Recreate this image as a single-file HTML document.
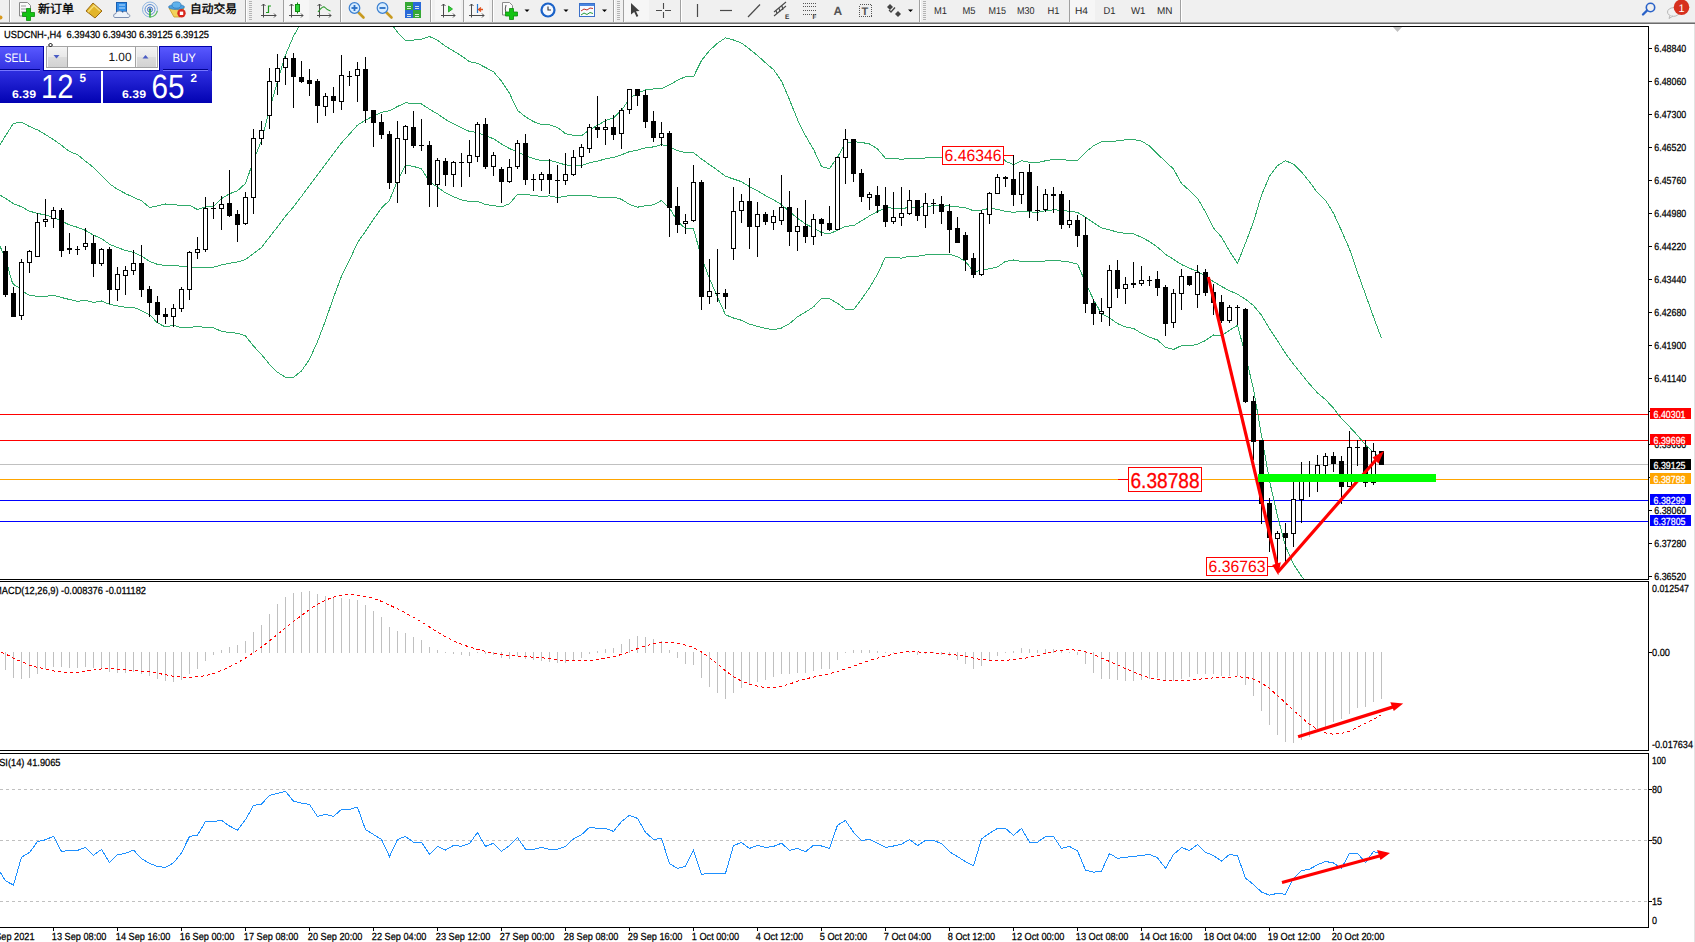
<!DOCTYPE html><html><head><meta charset="utf-8"><title>USDCNH-,H4</title>
<style>html,body{margin:0;padding:0;background:#fff;overflow:hidden;width:1695px;height:942px}svg{display:block;text-rendering:geometricPrecision}</style></head><body>
<svg width="1695" height="942" viewBox="0 0 1695 942">
<rect x="0" y="0" width="1695" height="942" fill="#ffffff"/>
<rect x="0" y="0" width="1695" height="22" fill="#f0f0f0"/>
<g shape-rendering="crispEdges">
<rect x="0" y="22" width="1695" height="1" fill="#a9a9a9"/>
<rect x="0" y="23" width="1695" height="1" fill="#6c6c6c"/>
<rect x="0" y="24" width="1695" height="1" fill="#ffffff"/>
<rect x="0" y="25" width="1695" height="1" fill="#ffffff"/>
<rect x="9" y="0" width="1" height="22" fill="#a0a0a0"/>
<rect x="10" y="0" width="1" height="22" fill="#ffffff"/>
<rect x="245" y="0" width="1" height="22" fill="#a0a0a0"/>
<rect x="246" y="0" width="1" height="22" fill="#ffffff"/>
<rect x="283" y="0" width="1" height="22" fill="#a0a0a0"/>
<rect x="284" y="0" width="1" height="22" fill="#ffffff"/>
<rect x="340" y="0" width="1" height="22" fill="#a0a0a0"/>
<rect x="341" y="0" width="1" height="22" fill="#ffffff"/>
<rect x="430" y="0" width="1" height="22" fill="#a0a0a0"/>
<rect x="431" y="0" width="1" height="22" fill="#ffffff"/>
<rect x="463" y="0" width="1" height="22" fill="#a0a0a0"/>
<rect x="464" y="0" width="1" height="22" fill="#ffffff"/>
<rect x="492" y="0" width="1" height="22" fill="#a0a0a0"/>
<rect x="493" y="0" width="1" height="22" fill="#ffffff"/>
<rect x="613" y="0" width="1" height="22" fill="#a0a0a0"/>
<rect x="614" y="0" width="1" height="22" fill="#ffffff"/>
<rect x="623" y="0" width="1" height="22" fill="#a0a0a0"/>
<rect x="624" y="0" width="1" height="22" fill="#ffffff"/>
<rect x="680" y="0" width="1" height="22" fill="#a0a0a0"/>
<rect x="681" y="0" width="1" height="22" fill="#ffffff"/>
<rect x="919" y="0" width="1" height="22" fill="#a0a0a0"/>
<rect x="920" y="0" width="1" height="22" fill="#ffffff"/>
<rect x="1069" y="0" width="1" height="22" fill="#a0a0a0"/>
<rect x="1070" y="0" width="1" height="22" fill="#ffffff"/>
<rect x="1180" y="0" width="1" height="22" fill="#a0a0a0"/>
<rect x="1181" y="0" width="1" height="22" fill="#ffffff"/>
<rect x="249" y="1" width="3" height="1" fill="#b4b4b4"/>
<rect x="249" y="3" width="3" height="1" fill="#b4b4b4"/>
<rect x="249" y="5" width="3" height="1" fill="#b4b4b4"/>
<rect x="249" y="7" width="3" height="1" fill="#b4b4b4"/>
<rect x="249" y="9" width="3" height="1" fill="#b4b4b4"/>
<rect x="249" y="11" width="3" height="1" fill="#b4b4b4"/>
<rect x="249" y="13" width="3" height="1" fill="#b4b4b4"/>
<rect x="249" y="15" width="3" height="1" fill="#b4b4b4"/>
<rect x="249" y="17" width="3" height="1" fill="#b4b4b4"/>
<rect x="249" y="19" width="3" height="1" fill="#b4b4b4"/>
<rect x="617" y="1" width="3" height="1" fill="#b4b4b4"/>
<rect x="617" y="3" width="3" height="1" fill="#b4b4b4"/>
<rect x="617" y="5" width="3" height="1" fill="#b4b4b4"/>
<rect x="617" y="7" width="3" height="1" fill="#b4b4b4"/>
<rect x="617" y="9" width="3" height="1" fill="#b4b4b4"/>
<rect x="617" y="11" width="3" height="1" fill="#b4b4b4"/>
<rect x="617" y="13" width="3" height="1" fill="#b4b4b4"/>
<rect x="617" y="15" width="3" height="1" fill="#b4b4b4"/>
<rect x="617" y="17" width="3" height="1" fill="#b4b4b4"/>
<rect x="617" y="19" width="3" height="1" fill="#b4b4b4"/>
<rect x="923" y="1" width="3" height="1" fill="#b4b4b4"/>
<rect x="923" y="3" width="3" height="1" fill="#b4b4b4"/>
<rect x="923" y="5" width="3" height="1" fill="#b4b4b4"/>
<rect x="923" y="7" width="3" height="1" fill="#b4b4b4"/>
<rect x="923" y="9" width="3" height="1" fill="#b4b4b4"/>
<rect x="923" y="11" width="3" height="1" fill="#b4b4b4"/>
<rect x="923" y="13" width="3" height="1" fill="#b4b4b4"/>
<rect x="923" y="15" width="3" height="1" fill="#b4b4b4"/>
<rect x="923" y="17" width="3" height="1" fill="#b4b4b4"/>
<rect x="923" y="19" width="3" height="1" fill="#b4b4b4"/>
<rect x="284" y="0" width="25" height="21" fill="#f6f6f6"/>
<rect x="435" y="0" width="26" height="21" fill="#f6f6f6"/>
<rect x="464" y="0" width="25" height="21" fill="#f6f6f6"/>
<rect x="624" y="0" width="25" height="21" fill="#f6f6f6"/>
<rect x="1070" y="0" width="25" height="21" fill="#f6f6f6"/>
</g>
<circle cx="0.5" cy="17.5" r="2" fill="#d89a20"/>
<path d="M19.5 2.5h8l3 3v10.5h-11z" fill="#fafafa" stroke="#8a8a8a"/>
<path d="M21 6h5M21 9h7M21 12h6" stroke="#9a9a9a" stroke-width="1"/>
<path d="M26.5 8.5h4v4h4v4h-4v4h-4v-4h-4v-4h4z" fill="#13c313" stroke="#0a8a0a" stroke-width="0.8"/>
<text x="38" y="13.2" font-size="12" fill="#000" text-anchor="start" font-family="'Liberation Sans', 'Noto Sans CJK SC', 'WenQuanYi Zen Hei', sans-serif" font-weight="normal" textLength="36" lengthAdjust="spacingAndGlyphs" stroke="#000" stroke-width="0.35">新订单</text>
<path d="M86 11 L93 3 L102 11 L95 18 Z" fill="#e3b52a" stroke="#9c6a12" stroke-width="1"/>
<path d="M88 12 L94 5.5 L100 11" fill="none" stroke="#f6dc76" stroke-width="1.5"/>
<rect x="116.5" y="2.5" width="10" height="9" fill="#2f8de8" stroke="#1a5fb0"/>
<path d="M119 5h6M119 8h6" stroke="#bfe0ff"/>
<path d="M115 17.5 C113 17.5 113 13.5 116 13.5 C116.5 10.5 121 10 122.5 12.5 C124 10.5 128 11.5 127.5 14 C130.5 14 130.5 17.5 128 17.5 Z" fill="#eef3fa" stroke="#7d8fb0" stroke-width="1"/>
<circle cx="150" cy="9.5" r="7.5" fill="none" stroke="#8fb5e0" stroke-width="1"/>
<circle cx="150" cy="9.5" r="5" fill="none" stroke="#5b8fd6" stroke-width="1"/>
<circle cx="150" cy="9.5" r="2.5" fill="none" stroke="#3d6fc4" stroke-width="1"/>
<circle cx="150" cy="9.5" r="1.3" fill="#2a55b0"/>
<path d="M150 9.5 V17.5" stroke="#2fae2f" stroke-width="1.6"/>
<path d="M150 17 A7.5 7.5 0 0 0 157.3 11" fill="none" stroke="#5cbf5c" stroke-width="1.2"/>
<path d="M169 8 L184 8 L180 17 L174 17 Z" fill="#f2d35a" stroke="#c89a20" stroke-width="0.8"/>
<ellipse cx="176.5" cy="7" rx="8" ry="2.6" fill="#4aa0e0" stroke="#2b6fb0" stroke-width="0.6"/>
<ellipse cx="176.5" cy="5" rx="4.5" ry="3.2" fill="#5fb2ec" stroke="#2b6fb0" stroke-width="0.6"/>
<circle cx="181.5" cy="13.3" r="4.2" fill="#d8261c"/>
<rect x="179.8" y="11.6" width="3.4" height="3.4" fill="#fff"/>
<text x="190" y="13.2" font-size="12" fill="#000" text-anchor="start" font-family="'Liberation Sans', 'Noto Sans CJK SC', 'WenQuanYi Zen Hei', sans-serif" font-weight="normal" textLength="47" lengthAdjust="spacingAndGlyphs" stroke="#000" stroke-width="0.35">自动交易</text>
<path d="M263.5 4 V17.5 M261 15.5 H276" stroke="#4a4a4a" stroke-width="1" fill="none"/>
<path d="M261.5 6 L263.5 4 L265.5 6" stroke="#4a4a4a" fill="none"/>
<path d="M274 13.5 L276 15.5 L274 17.5" stroke="#4a4a4a" fill="none"/>
<path d="M268.5 5.5 V13 M268.5 6 H271 M266 12.5 H268.5" stroke="#1d9a1d" stroke-width="1.2" fill="none"/>
<path d="M291.5 4 V17.5 M289 15.5 H303" stroke="#4a4a4a" stroke-width="1" fill="none"/>
<path d="M289.5 6 L291.5 4 L293.5 6" stroke="#4a4a4a" fill="none"/>
<path d="M301 13.5 L303 15.5 L301 17.5" stroke="#4a4a4a" fill="none"/>
<path d="M297.5 2.5 V13.5" stroke="#108a10"/>
<rect x="295.5" y="4.5" width="4" height="7" fill="#2fd33a" stroke="#108a10"/>
<path d="M319.5 4 V17.5 M317 15.5 H331" stroke="#4a4a4a" stroke-width="1" fill="none"/>
<path d="M317.5 6 L319.5 4 L321.5 6" stroke="#4a4a4a" fill="none"/>
<path d="M329 13.5 L331 15.5 L329 17.5" stroke="#4a4a4a" fill="none"/>
<path d="M318 12 Q323 5 325 7.5 T330.5 11" stroke="#2a9a2a" stroke-width="1.1" fill="none"/>
<path d="M358.0 12 L363.5 17.5" stroke="#c89a20" stroke-width="2.6" stroke-linecap="round"/>
<circle cx="354.5" cy="8" r="5.3" fill="#d6ecff" stroke="#3a7fd0" stroke-width="1.2"/>
<path d="M351.5 8 H357.5" stroke="#2a6fc4" stroke-width="1.8"/>
<path d="M354.5 5 V11" stroke="#2a6fc4" stroke-width="1.8"/>
<path d="M386.0 12 L391.5 17.5" stroke="#c89a20" stroke-width="2.6" stroke-linecap="round"/>
<circle cx="382.5" cy="8" r="5.3" fill="#d6ecff" stroke="#3a7fd0" stroke-width="1.2"/>
<path d="M379.5 8 H385.5" stroke="#2a6fc4" stroke-width="1.8"/>
<rect x="405.5" y="2.5" width="7" height="7" fill="#35a835" stroke="#35a835"/>
<path d="M407 6.5 H411 M407 8.5 H411" stroke="#e8f4e8" stroke-width="0.9"/>
<rect x="413.5" y="2.5" width="7" height="7" fill="#2a6ad8" stroke="#2a6ad8"/>
<path d="M415 6.5 H419 M415 8.5 H419" stroke="#e8f4e8" stroke-width="0.9"/>
<rect x="405.5" y="10.5" width="7" height="7" fill="#2a6ad8" stroke="#2a6ad8"/>
<path d="M407 14.5 H411 M407 16.5 H411" stroke="#e8f4e8" stroke-width="0.9"/>
<rect x="413.5" y="10.5" width="7" height="7" fill="#35a835" stroke="#35a835"/>
<path d="M415 14.5 H419 M415 16.5 H419" stroke="#e8f4e8" stroke-width="0.9"/>
<path d="M443.5 4 V17.5 M441 15.5 H455" stroke="#4a4a4a" stroke-width="1" fill="none"/>
<path d="M441.5 6 L443.5 4 L445.5 6" stroke="#4a4a4a" fill="none"/>
<path d="M453 13.5 L455 15.5 L453 17.5" stroke="#4a4a4a" fill="none"/>
<path d="M448.5 6 L452.5 9 L448.5 12 Z" fill="#2fd33a" stroke="#1a9a1a" stroke-width="0.8"/>
<path d="M471.5 4 V17.5 M469 15.5 H484" stroke="#4a4a4a" stroke-width="1" fill="none"/>
<path d="M469.5 6 L471.5 4 L473.5 6" stroke="#4a4a4a" fill="none"/>
<path d="M482 13.5 L484 15.5 L482 17.5" stroke="#4a4a4a" fill="none"/>
<path d="M477.5 4 V13" stroke="#2a7ad0" stroke-width="1.2"/>
<path d="M483 9.5 H479 M481 7.5 L478.5 9.5 L481 11.5" stroke="#e0501a" stroke-width="1.3" fill="none"/>
<path d="M502.5 2.5h7l3 3v9.5h-10z" fill="#fafafa" stroke="#8a8a8a"/>
<path d="M506 5 Q504.5 9 506 13" stroke="#555" fill="none"/>
<path d="M509.5 8.5h4v3.5h4v4h-4v3.5h-4v-3.5h-4v-4h4z" fill="#13c313" stroke="#0a8a0a" stroke-width="0.8"/>
<path d="M524.5 9.5 L529.5 9.5 L527 12 Z" fill="#000"/>
<path d="M563.5 9.5 L568.5 9.5 L566 12 Z" fill="#000"/>
<path d="M602.0 9.5 L607.0 9.5 L604.5 12 Z" fill="#000"/>
<path d="M908.0 9.5 L913.0 9.5 L910.5 12 Z" fill="#000"/>
<circle cx="548" cy="10" r="7.6" fill="#1a62c8"/>
<circle cx="548" cy="10" r="5.4" fill="#f4f8ff"/>
<path d="M548 6.5 V10 H551" stroke="#333" stroke-width="1.1" fill="none"/>
<rect x="579.5" y="3.5" width="15" height="13" fill="#f8fbff" stroke="#3a6fc8"/>
<rect x="580" y="4" width="14" height="2" fill="#4a86e0"/>
<path d="M581 11 L584 9 L587 10 L590 8 L593 8.5" stroke="#c0302a" fill="none"/>
<path d="M581 15 L584 13 L587 14.5 L590 12.5 L593 13.5" stroke="#2a9a3a" fill="none"/>
<path d="M631 3 L639.5 11 L636 11.2 L638.3 16 L636.6 16.9 L634.2 12 L631 14.5 Z" fill="#404040"/>
<path d="M656 10.5 H662 M665 10.5 H671 M663.5 3 V9 M663.5 12 V18" stroke="#4a4a4a" stroke-width="1.1"/>
<path d="M697.5 4 V17" stroke="#4a4a4a" stroke-width="1.2"/>
<path d="M720 10.5 H732" stroke="#4a4a4a" stroke-width="1.2"/>
<path d="M748 17 L760 4.5" stroke="#4a4a4a" stroke-width="1.2"/>
<path d="M774 12 L786 2 M774 16 L786 6 M776 10 L777 14 M779 8 L780 12 M782 6 L783 10" stroke="#4a4a4a" stroke-width="1.1"/>
<text x="785" y="18.5" font-size="6.5" fill="#333" text-anchor="start" font-family="'Liberation Sans', Arial, sans-serif" font-weight="bold">E</text>
<path d="M803 3.5 H816" stroke="#555" stroke-dasharray="1,1" shape-rendering="crispEdges"/>
<path d="M803 6.5 H816" stroke="#555" stroke-dasharray="1,1" shape-rendering="crispEdges"/>
<path d="M803 10.5 H816" stroke="#555" stroke-dasharray="1,1" shape-rendering="crispEdges"/>
<path d="M803 14.5 H816" stroke="#555" stroke-dasharray="1,1" shape-rendering="crispEdges"/>
<text x="812.5" y="18.5" font-size="6.5" fill="#333" text-anchor="start" font-family="'Liberation Sans', Arial, sans-serif" font-weight="bold">F</text>
<text x="833.5" y="15" font-size="12" fill="#555" text-anchor="start" font-family="'Liberation Sans', Arial, sans-serif" font-weight="bold">A</text>
<rect x="859.5" y="4.5" width="12" height="12" fill="none" stroke="#555" stroke-dasharray="1,1" shape-rendering="crispEdges"/>
<text x="861.5" y="14.5" font-size="11" fill="#555" text-anchor="start" font-family="'Liberation Sans', Arial, sans-serif" font-weight="bold">T</text>
<path d="M890 4 L893 7 L890 10 L887 7 Z" fill="#444"/>
<path d="M889 10 L891 12 L895 7.5" stroke="#444" stroke-width="1.3" fill="none"/>
<path d="M898 11 L901 14 L898 17 L895 14 Z" fill="#444"/>
<text x="934" y="14" font-size="10" fill="#2a2a2a" text-anchor="start" font-family="'Liberation Sans', Arial, sans-serif" font-weight="normal" textLength="13" lengthAdjust="spacingAndGlyphs">M1</text>
<text x="962.5" y="14" font-size="10" fill="#2a2a2a" text-anchor="start" font-family="'Liberation Sans', Arial, sans-serif" font-weight="normal" textLength="13.0" lengthAdjust="spacingAndGlyphs">M5</text>
<text x="988.5" y="14" font-size="10" fill="#2a2a2a" text-anchor="start" font-family="'Liberation Sans', Arial, sans-serif" font-weight="normal" textLength="17.5" lengthAdjust="spacingAndGlyphs">M15</text>
<text x="1017" y="14" font-size="10" fill="#2a2a2a" text-anchor="start" font-family="'Liberation Sans', Arial, sans-serif" font-weight="normal" textLength="17.5" lengthAdjust="spacingAndGlyphs">M30</text>
<text x="1047.5" y="14" font-size="10" fill="#2a2a2a" text-anchor="start" font-family="'Liberation Sans', Arial, sans-serif" font-weight="normal" textLength="12.0" lengthAdjust="spacingAndGlyphs">H1</text>
<text x="1075" y="14" font-size="10" fill="#2a2a2a" text-anchor="start" font-family="'Liberation Sans', Arial, sans-serif" font-weight="normal" textLength="13" lengthAdjust="spacingAndGlyphs">H4</text>
<text x="1103.5" y="14" font-size="10" fill="#2a2a2a" text-anchor="start" font-family="'Liberation Sans', Arial, sans-serif" font-weight="normal" textLength="12.0" lengthAdjust="spacingAndGlyphs">D1</text>
<text x="1131" y="14" font-size="10" fill="#2a2a2a" text-anchor="start" font-family="'Liberation Sans', Arial, sans-serif" font-weight="normal" textLength="14.5" lengthAdjust="spacingAndGlyphs">W1</text>
<text x="1157" y="14" font-size="10" fill="#2a2a2a" text-anchor="start" font-family="'Liberation Sans', Arial, sans-serif" font-weight="normal" textLength="15.5" lengthAdjust="spacingAndGlyphs">MN</text>
<path d="M1643 14.5 L1647 10.5" stroke="#2a62c8" stroke-width="2.4" stroke-linecap="round"/>
<circle cx="1650.5" cy="7.5" r="4.2" fill="none" stroke="#2a62c8" stroke-width="1.6"/>
<ellipse cx="1673.5" cy="12" rx="6" ry="4.3" fill="#f2f2f2" stroke="#b8b8b8"/>
<path d="M1670 15.5 L1669 18.5 L1673 16" fill="#f2f2f2" stroke="#b8b8b8"/>
<circle cx="1681.5" cy="7.3" r="7.8" fill="#d6301e"/>
<text x="1681.5" y="11.5" font-size="11" fill="#fff" text-anchor="middle" font-family="'Liberation Sans', Arial, sans-serif" font-weight="normal">1</text>
<g shape-rendering="crispEdges">
<rect x="1694" y="24" width="1" height="918" fill="#e3e3e3"/>
<rect x="0" y="26" width="1649" height="1" fill="#000"/>
<rect x="0" y="579" width="1649" height="1" fill="#000"/>
<rect x="0" y="581" width="1649" height="1" fill="#000"/>
<rect x="0" y="750" width="1649" height="1" fill="#000"/>
<rect x="0" y="753" width="1649" height="1" fill="#000"/>
<rect x="0" y="927" width="1649" height="1" fill="#000"/>
<rect x="1648" y="26" width="1" height="554" fill="#000"/>
<rect x="1648" y="581" width="1" height="170" fill="#000"/>
<rect x="1648" y="753" width="1" height="175" fill="#000"/>
</g>
<defs><clipPath id="cmain"><rect x="0" y="27" width="1648" height="552"/></clipPath><clipPath id="cmacd"><rect x="0" y="582" width="1648" height="168"/></clipPath><clipPath id="crsi"><rect x="0" y="754" width="1648" height="173"/></clipPath></defs>
<g shape-rendering="crispEdges">
<rect x="1649" y="48" width="3" height="1" fill="#000"/>
<rect x="1649" y="81" width="3" height="1" fill="#000"/>
<rect x="1649" y="114" width="3" height="1" fill="#000"/>
<rect x="1649" y="147" width="3" height="1" fill="#000"/>
<rect x="1649" y="180" width="3" height="1" fill="#000"/>
<rect x="1649" y="213" width="3" height="1" fill="#000"/>
<rect x="1649" y="246" width="3" height="1" fill="#000"/>
<rect x="1649" y="279" width="3" height="1" fill="#000"/>
<rect x="1649" y="312" width="3" height="1" fill="#000"/>
<rect x="1649" y="345" width="3" height="1" fill="#000"/>
<rect x="1649" y="378" width="3" height="1" fill="#000"/>
<rect x="1649" y="411" width="3" height="1" fill="#000"/>
<rect x="1649" y="444" width="3" height="1" fill="#000"/>
<rect x="1649" y="477" width="3" height="1" fill="#000"/>
<rect x="1649" y="510" width="3" height="1" fill="#000"/>
<rect x="1649" y="543" width="3" height="1" fill="#000"/>
<rect x="1649" y="576" width="3" height="1" fill="#000"/>
</g>
<text x="1654.3" y="52" font-size="10.3" fill="#000" text-anchor="start" font-family="'Liberation Sans', Arial, sans-serif" font-weight="normal" textLength="32" lengthAdjust="spacingAndGlyphs" stroke="#000" stroke-width="0.25">6.48840</text>
<text x="1654.3" y="85" font-size="10.3" fill="#000" text-anchor="start" font-family="'Liberation Sans', Arial, sans-serif" font-weight="normal" textLength="32" lengthAdjust="spacingAndGlyphs" stroke="#000" stroke-width="0.25">6.48060</text>
<text x="1654.3" y="118" font-size="10.3" fill="#000" text-anchor="start" font-family="'Liberation Sans', Arial, sans-serif" font-weight="normal" textLength="32" lengthAdjust="spacingAndGlyphs" stroke="#000" stroke-width="0.25">6.47300</text>
<text x="1654.3" y="151" font-size="10.3" fill="#000" text-anchor="start" font-family="'Liberation Sans', Arial, sans-serif" font-weight="normal" textLength="32" lengthAdjust="spacingAndGlyphs" stroke="#000" stroke-width="0.25">6.46520</text>
<text x="1654.3" y="184" font-size="10.3" fill="#000" text-anchor="start" font-family="'Liberation Sans', Arial, sans-serif" font-weight="normal" textLength="32" lengthAdjust="spacingAndGlyphs" stroke="#000" stroke-width="0.25">6.45760</text>
<text x="1654.3" y="217" font-size="10.3" fill="#000" text-anchor="start" font-family="'Liberation Sans', Arial, sans-serif" font-weight="normal" textLength="32" lengthAdjust="spacingAndGlyphs" stroke="#000" stroke-width="0.25">6.44980</text>
<text x="1654.3" y="250" font-size="10.3" fill="#000" text-anchor="start" font-family="'Liberation Sans', Arial, sans-serif" font-weight="normal" textLength="32" lengthAdjust="spacingAndGlyphs" stroke="#000" stroke-width="0.25">6.44220</text>
<text x="1654.3" y="283" font-size="10.3" fill="#000" text-anchor="start" font-family="'Liberation Sans', Arial, sans-serif" font-weight="normal" textLength="32" lengthAdjust="spacingAndGlyphs" stroke="#000" stroke-width="0.25">6.43440</text>
<text x="1654.3" y="316" font-size="10.3" fill="#000" text-anchor="start" font-family="'Liberation Sans', Arial, sans-serif" font-weight="normal" textLength="32" lengthAdjust="spacingAndGlyphs" stroke="#000" stroke-width="0.25">6.42680</text>
<text x="1654.3" y="349" font-size="10.3" fill="#000" text-anchor="start" font-family="'Liberation Sans', Arial, sans-serif" font-weight="normal" textLength="32" lengthAdjust="spacingAndGlyphs" stroke="#000" stroke-width="0.25">6.41900</text>
<text x="1654.3" y="382" font-size="10.3" fill="#000" text-anchor="start" font-family="'Liberation Sans', Arial, sans-serif" font-weight="normal" textLength="32" lengthAdjust="spacingAndGlyphs" stroke="#000" stroke-width="0.25">6.41140</text>
<text x="1654.3" y="448" font-size="10.3" fill="#000" text-anchor="start" font-family="'Liberation Sans', Arial, sans-serif" font-weight="normal" textLength="32" lengthAdjust="spacingAndGlyphs" stroke="#000" stroke-width="0.25">6.39600</text>
<text x="1654.3" y="514" font-size="10.3" fill="#000" text-anchor="start" font-family="'Liberation Sans', Arial, sans-serif" font-weight="normal" textLength="32" lengthAdjust="spacingAndGlyphs" stroke="#000" stroke-width="0.25">6.38060</text>
<text x="1654.3" y="547" font-size="10.3" fill="#000" text-anchor="start" font-family="'Liberation Sans', Arial, sans-serif" font-weight="normal" textLength="32" lengthAdjust="spacingAndGlyphs" stroke="#000" stroke-width="0.25">6.37280</text>
<text x="1654.3" y="580" font-size="10.3" fill="#000" text-anchor="start" font-family="'Liberation Sans', Arial, sans-serif" font-weight="normal" textLength="32" lengthAdjust="spacingAndGlyphs" stroke="#000" stroke-width="0.25">6.36520</text>
<g shape-rendering="crispEdges">
<rect x="0" y="414" width="1648" height="1" fill="#ff0000"/>
<rect x="0" y="440" width="1648" height="1" fill="#ff0000"/>
<rect x="0" y="464" width="1648" height="1" fill="#c0c0c0"/>
<rect x="0" y="479" width="1648" height="1" fill="#ffa500"/>
<rect x="0" y="500" width="1648" height="1" fill="#0000ff"/>
<rect x="0" y="521" width="1648" height="1" fill="#0000ff"/>
</g>
<g clip-path="url(#cmain)" fill="none" stroke="#30ab6a" stroke-width="1" shape-rendering="crispEdges">
<path d="M0.0 144.7 L5.5 135.8 L13.5 123.3 L21.5 122.2 L29.5 126.5 L37.5 129.9 L45.5 134.6 L53.5 139.6 L61.5 145.3 L69.5 151.6 L77.5 154.5 L85.5 161.2 L93.5 167.5 L101.5 175.3 L109.5 183.8 L117.5 189.3 L125.5 193.6 L133.5 197.3 L141.5 200.8 L149.5 207.4 L157.5 205.9 L165.5 204.0 L173.5 204.8 L181.5 205.3 L189.5 205.4 L197.5 209.5 L205.5 207.0 L213.5 206.5 L221.5 198.6 L229.5 193.8 L237.5 190.7 L245.5 183.4 L253.5 160.7 L261.5 140.4 L269.5 109.8 L277.5 81.3 L285.5 54.9 L293.5 36.2 L301.5 21.9 L309.5 11.5 L317.5 8.4 L325.5 7.4 L333.5 9.7 L341.5 9.6 L349.5 7.8 L357.5 7.6 L365.5 9.1 L373.5 12.4 L381.5 16.7 L389.5 21.2 L397.5 32.2 L405.5 40.6 L413.5 40.1 L421.5 39.2 L429.5 36.5 L437.5 40.3 L445.5 46.2 L453.5 51.0 L461.5 55.9 L469.5 61.6 L477.5 63.4 L485.5 67.5 L493.5 71.7 L501.5 81.2 L509.5 93.3 L517.5 110.4 L525.5 116.9 L533.5 121.6 L541.5 124.7 L549.5 124.9 L557.5 127.4 L565.5 133.7 L573.5 135.3 L581.5 135.7 L589.5 129.9 L597.5 125.3 L605.5 120.6 L613.5 117.8 L621.5 110.4 L629.5 98.7 L637.5 93.0 L645.5 90.0 L653.5 89.0 L661.5 88.6 L669.5 84.9 L677.5 80.2 L685.5 76.7 L693.5 76.7 L701.5 60.5 L709.5 50.6 L717.5 43.2 L725.5 37.8 L733.5 40.0 L741.5 43.1 L749.5 49.1 L757.5 55.5 L765.5 62.8 L773.5 69.6 L781.5 81.1 L789.5 99.7 L797.5 119.6 L805.5 135.8 L813.5 149.2 L821.5 166.6 L829.5 168.6 L837.5 157.3 L845.5 143.2 L853.5 141.7 L861.5 142.4 L869.5 144.0 L877.5 148.9 L885.5 158.4 L893.5 158.6 L901.5 159.2 L909.5 158.5 L917.5 158.5 L925.5 158.0 L933.5 157.6 L941.5 157.7 L949.5 157.8 L957.5 156.8 L965.5 154.3 L973.5 149.8 L981.5 149.6 L989.5 148.0 L997.5 151.8 L1005.5 161.2 L1013.5 164.7 L1021.5 160.8 L1029.5 162.2 L1037.5 162.5 L1045.5 160.8 L1053.5 159.4 L1061.5 159.5 L1069.5 160.5 L1077.5 160.5 L1085.5 152.2 L1093.5 145.8 L1101.5 141.9 L1109.5 142.0 L1117.5 140.7 L1125.5 139.9 L1133.5 139.4 L1141.5 141.1 L1149.5 145.9 L1157.5 154.2 L1165.5 161.4 L1173.5 169.1 L1181.5 183.4 L1189.5 190.6 L1197.5 198.3 L1205.5 211.9 L1213.5 228.1 L1221.5 237.1 L1229.5 251.1 L1237.5 263.3 L1245.5 243.1 L1253.5 222.0 L1261.5 195.0 L1269.5 176.2 L1277.5 165.6 L1285.5 160.7 L1293.5 164.2 L1301.5 172.0 L1309.5 181.8 L1317.5 192.8 L1325.5 200.3 L1333.5 213.2 L1341.5 230.7 L1349.5 248.9 L1357.5 272.3 L1365.5 294.5 L1373.5 316.9 L1381.5 338.4"/>
<path d="M0.0 195.2 L5.5 198.3 L13.5 203.7 L21.5 206.8 L29.5 211.2 L37.5 213.4 L45.5 215.0 L53.5 217.4 L61.5 221.2 L69.5 224.9 L77.5 227.3 L85.5 230.4 L93.5 235.1 L101.5 238.6 L109.5 244.3 L117.5 247.6 L125.5 250.4 L133.5 252.3 L141.5 256.1 L149.5 261.3 L157.5 264.4 L165.5 265.5 L173.5 265.1 L181.5 266.4 L189.5 266.5 L197.5 267.9 L205.5 267.3 L213.5 267.2 L221.5 264.9 L229.5 263.2 L237.5 261.9 L245.5 259.6 L253.5 253.4 L261.5 247.4 L269.5 237.1 L277.5 226.8 L285.5 216.2 L293.5 206.8 L301.5 196.4 L309.5 185.4 L317.5 175.0 L325.5 164.0 L333.5 153.6 L341.5 142.9 L349.5 134.1 L357.5 125.1 L365.5 120.2 L373.5 115.9 L381.5 112.4 L389.5 110.8 L397.5 106.5 L405.5 102.9 L413.5 103.2 L421.5 104.0 L429.5 109.2 L437.5 113.8 L445.5 119.5 L453.5 123.8 L461.5 127.9 L469.5 131.5 L477.5 132.4 L485.5 135.9 L493.5 138.7 L501.5 144.0 L509.5 148.6 L517.5 152.2 L525.5 155.7 L533.5 158.6 L541.5 160.6 L549.5 160.4 L557.5 162.5 L565.5 164.9 L573.5 165.5 L581.5 165.6 L589.5 162.8 L597.5 161.2 L605.5 158.8 L613.5 157.4 L621.5 154.8 L629.5 151.6 L637.5 150.1 L645.5 147.8 L653.5 146.9 L661.5 144.6 L669.5 146.6 L677.5 150.6 L685.5 152.7 L693.5 152.8 L701.5 158.9 L709.5 164.6 L717.5 170.2 L725.5 176.3 L733.5 179.0 L741.5 181.7 L749.5 186.7 L757.5 190.9 L765.5 195.6 L773.5 199.7 L781.5 204.6 L789.5 211.7 L797.5 218.2 L805.5 223.9 L813.5 228.1 L821.5 232.6 L829.5 233.7 L837.5 230.3 L845.5 226.2 L853.5 225.8 L861.5 220.8 L869.5 215.9 L877.5 211.5 L885.5 207.8 L893.5 208.1 L901.5 208.7 L909.5 207.3 L917.5 207.4 L925.5 206.5 L933.5 205.8 L941.5 206.1 L949.5 205.9 L957.5 206.8 L965.5 207.9 L973.5 210.7 L981.5 210.2 L989.5 208.3 L997.5 209.3 L1005.5 211.3 L1013.5 212.3 L1021.5 211.2 L1029.5 211.9 L1037.5 212.2 L1045.5 210.8 L1053.5 209.8 L1061.5 210.3 L1069.5 211.3 L1077.5 212.3 L1085.5 217.3 L1093.5 222.8 L1101.5 227.8 L1109.5 229.8 L1117.5 232.2 L1125.5 233.4 L1133.5 233.9 L1141.5 237.2 L1149.5 241.6 L1157.5 247.1 L1165.5 254.3 L1173.5 259.3 L1181.5 264.5 L1189.5 268.2 L1197.5 271.3 L1205.5 276.2 L1213.5 281.6 L1221.5 286.4 L1229.5 290.7 L1237.5 294.3 L1245.5 299.2 L1253.5 305.6 L1261.5 315.2 L1269.5 328.6 L1277.5 340.8 L1285.5 353.4 L1293.5 364.2 L1301.5 374.1 L1309.5 384.0 L1317.5 392.9 L1325.5 399.6 L1333.5 408.1 L1341.5 418.6 L1349.5 426.7 L1357.5 435.4 L1365.5 444.9 L1373.5 452.4 L1381.5 459.6"/>
<path d="M0.0 246.0 L2.5 252.0 L5.5 260.0 L8.0 267.2 L10.0 275.0 L12.0 281.5 L13.5 284.4 L18.6 287.4 L21.5 290.4 L24.0 292.2 L29.5 295.2 L37.5 296.3 L45.5 296.3 L53.5 295.2 L61.5 297.5 L69.5 299.5 L77.5 301.3 L85.5 300.3 L93.5 302.5 L101.5 301.0 L109.5 304.3 L117.5 306.0 L125.5 307.3 L133.5 307.3 L141.5 310.6 L149.5 314.6 L157.5 322.9 L165.5 327.0 L173.5 325.4 L181.5 327.6 L189.5 327.6 L197.5 326.2 L205.5 327.6 L213.5 327.9 L221.5 331.2 L229.5 332.6 L237.5 333.2 L245.5 335.9 L253.5 346.1 L261.5 354.5 L269.5 364.3 L277.5 372.2 L285.5 377.4 L293.5 377.4 L301.5 370.9 L309.5 359.4 L317.5 341.6 L325.5 320.6 L333.5 297.5 L341.5 276.2 L349.5 260.4 L357.5 242.6 L365.5 231.3 L373.5 219.4 L381.5 208.1 L389.5 200.3 L397.5 180.7 L405.5 165.2 L413.5 166.4 L421.5 168.8 L429.5 181.8 L437.5 187.2 L445.5 192.9 L453.5 196.7 L461.5 199.9 L469.5 201.4 L477.5 201.5 L485.5 204.4 L493.5 205.7 L501.5 206.8 L509.5 203.8 L517.5 194.1 L525.5 194.5 L533.5 195.5 L541.5 196.4 L549.5 195.9 L557.5 197.6 L565.5 196.1 L573.5 195.7 L581.5 195.5 L589.5 195.6 L597.5 197.1 L605.5 197.1 L613.5 197.1 L621.5 199.3 L629.5 204.4 L637.5 207.2 L645.5 205.7 L653.5 204.9 L661.5 200.5 L669.5 208.2 L677.5 221.0 L685.5 228.7 L693.5 229.0 L701.5 257.4 L709.5 278.5 L717.5 297.2 L725.5 314.8 L733.5 318.0 L741.5 320.3 L749.5 324.2 L757.5 326.3 L765.5 328.4 L773.5 329.8 L781.5 328.0 L789.5 323.6 L797.5 316.8 L805.5 312.1 L813.5 306.9 L821.5 298.5 L829.5 298.7 L837.5 303.3 L845.5 309.2 L853.5 309.8 L861.5 299.1 L869.5 287.8 L877.5 274.1 L885.5 257.1 L893.5 257.5 L901.5 258.1 L909.5 256.2 L917.5 256.3 L925.5 255.0 L933.5 254.1 L941.5 254.4 L949.5 254.1 L957.5 256.7 L965.5 261.5 L973.5 271.5 L981.5 270.7 L989.5 268.7 L997.5 266.9 L1005.5 261.4 L1013.5 260.0 L1021.5 261.5 L1029.5 261.7 L1037.5 261.9 L1045.5 260.9 L1053.5 260.1 L1061.5 261.1 L1069.5 262.1 L1077.5 264.1 L1085.5 282.4 L1093.5 299.8 L1101.5 313.7 L1109.5 317.7 L1117.5 323.6 L1125.5 326.9 L1133.5 328.4 L1141.5 333.4 L1149.5 337.3 L1157.5 340.0 L1165.5 347.3 L1173.5 349.5 L1181.5 345.6 L1189.5 345.8 L1197.5 344.3 L1205.5 340.5 L1213.5 335.0 L1221.5 335.6 L1229.5 330.3 L1237.5 325.3 L1245.5 355.3 L1253.5 389.2 L1261.5 435.4 L1269.5 480.9 L1277.5 516.0 L1285.5 546.2 L1293.5 564.2 L1301.5 576.3 L1309.5 586.2 L1317.5 593.0 L1325.5 598.8 L1333.5 602.9 L1341.5 606.4 L1349.5 604.5 L1357.5 598.6 L1365.5 595.4 L1373.5 587.9 L1381.5 580.8"/>
</g>
<g shape-rendering="crispEdges" clip-path="url(#cmain)">
<rect x="5" y="246" width="1" height="51" fill="#000"/>
<rect x="3" y="251" width="5" height="44" fill="#000"/>
<rect x="13" y="287" width="1" height="30" fill="#000"/>
<rect x="11" y="293" width="5" height="24" fill="#000"/>
<rect x="21" y="259" width="1" height="61" fill="#000"/>
<rect x="19" y="262" width="5" height="54" fill="#000"/>
<rect x="20" y="263" width="3" height="52" fill="#fff"/>
<rect x="29" y="250" width="1" height="23" fill="#000"/>
<rect x="27" y="251" width="5" height="12" fill="#000"/>
<rect x="28" y="252" width="3" height="10" fill="#fff"/>
<rect x="37" y="213" width="1" height="44" fill="#000"/>
<rect x="35" y="222" width="5" height="35" fill="#000"/>
<rect x="36" y="223" width="3" height="33" fill="#fff"/>
<rect x="45" y="199" width="1" height="28" fill="#000"/>
<rect x="43" y="219" width="5" height="3" fill="#000"/>
<rect x="44" y="220" width="3" height="1" fill="#fff"/>
<rect x="53" y="207" width="1" height="21" fill="#000"/>
<rect x="51" y="210" width="5" height="9" fill="#000"/>
<rect x="52" y="211" width="3" height="7" fill="#fff"/>
<rect x="61" y="208" width="1" height="49" fill="#000"/>
<rect x="59" y="210" width="5" height="41" fill="#000"/>
<rect x="69" y="233" width="1" height="21" fill="#000"/>
<rect x="67" y="248" width="5" height="2" fill="#000"/>
<rect x="77" y="246" width="1" height="9" fill="#000"/>
<rect x="75" y="249" width="5" height="1" fill="#000"/>
<rect x="85" y="228" width="1" height="22" fill="#000"/>
<rect x="83" y="243" width="5" height="4" fill="#000"/>
<rect x="84" y="244" width="3" height="2" fill="#fff"/>
<rect x="93" y="235" width="1" height="42" fill="#000"/>
<rect x="91" y="243" width="5" height="21" fill="#000"/>
<rect x="101" y="248" width="1" height="18" fill="#000"/>
<rect x="99" y="249" width="5" height="15" fill="#000"/>
<rect x="100" y="250" width="3" height="13" fill="#fff"/>
<rect x="109" y="247" width="1" height="57" fill="#000"/>
<rect x="107" y="249" width="5" height="41" fill="#000"/>
<rect x="117" y="267" width="1" height="34" fill="#000"/>
<rect x="115" y="274" width="5" height="16" fill="#000"/>
<rect x="116" y="275" width="3" height="14" fill="#fff"/>
<rect x="125" y="266" width="1" height="29" fill="#000"/>
<rect x="123" y="270" width="5" height="6" fill="#000"/>
<rect x="124" y="271" width="3" height="4" fill="#fff"/>
<rect x="133" y="250" width="1" height="25" fill="#000"/>
<rect x="131" y="263" width="5" height="8" fill="#000"/>
<rect x="132" y="264" width="3" height="6" fill="#fff"/>
<rect x="141" y="245" width="1" height="52" fill="#000"/>
<rect x="139" y="263" width="5" height="27" fill="#000"/>
<rect x="149" y="286" width="1" height="31" fill="#000"/>
<rect x="147" y="289" width="5" height="14" fill="#000"/>
<rect x="157" y="296" width="1" height="27" fill="#000"/>
<rect x="155" y="302" width="5" height="13" fill="#000"/>
<rect x="165" y="308" width="1" height="16" fill="#000"/>
<rect x="163" y="314" width="5" height="3" fill="#000"/>
<rect x="173" y="304" width="1" height="23" fill="#000"/>
<rect x="171" y="308" width="5" height="9" fill="#000"/>
<rect x="172" y="309" width="3" height="7" fill="#fff"/>
<rect x="181" y="287" width="1" height="25" fill="#000"/>
<rect x="179" y="289" width="5" height="20" fill="#000"/>
<rect x="180" y="290" width="3" height="18" fill="#fff"/>
<rect x="189" y="251" width="1" height="49" fill="#000"/>
<rect x="187" y="252" width="5" height="38" fill="#000"/>
<rect x="188" y="253" width="3" height="36" fill="#fff"/>
<rect x="197" y="237" width="1" height="22" fill="#000"/>
<rect x="195" y="249" width="5" height="4" fill="#000"/>
<rect x="196" y="250" width="3" height="2" fill="#fff"/>
<rect x="205" y="197" width="1" height="55" fill="#000"/>
<rect x="203" y="208" width="5" height="42" fill="#000"/>
<rect x="204" y="209" width="3" height="40" fill="#fff"/>
<rect x="213" y="202" width="1" height="17" fill="#000"/>
<rect x="211" y="208" width="5" height="1" fill="#000"/>
<rect x="221" y="196" width="1" height="34" fill="#000"/>
<rect x="219" y="204" width="5" height="5" fill="#000"/>
<rect x="220" y="205" width="3" height="3" fill="#fff"/>
<rect x="229" y="170" width="1" height="47" fill="#000"/>
<rect x="227" y="203" width="5" height="13" fill="#000"/>
<rect x="237" y="210" width="1" height="32" fill="#000"/>
<rect x="235" y="214" width="5" height="11" fill="#000"/>
<rect x="245" y="192" width="1" height="33" fill="#000"/>
<rect x="243" y="197" width="5" height="27" fill="#000"/>
<rect x="244" y="198" width="3" height="25" fill="#fff"/>
<rect x="253" y="129" width="1" height="85" fill="#000"/>
<rect x="251" y="138" width="5" height="60" fill="#000"/>
<rect x="252" y="139" width="3" height="58" fill="#fff"/>
<rect x="261" y="121" width="1" height="24" fill="#000"/>
<rect x="259" y="130" width="5" height="9" fill="#000"/>
<rect x="260" y="131" width="3" height="7" fill="#fff"/>
<rect x="269" y="68" width="1" height="61" fill="#000"/>
<rect x="267" y="81" width="5" height="35" fill="#000"/>
<rect x="268" y="82" width="3" height="33" fill="#fff"/>
<rect x="277" y="54" width="1" height="41" fill="#000"/>
<rect x="275" y="68" width="5" height="14" fill="#000"/>
<rect x="276" y="69" width="3" height="12" fill="#fff"/>
<rect x="285" y="56" width="1" height="29" fill="#000"/>
<rect x="283" y="58" width="5" height="10" fill="#000"/>
<rect x="284" y="59" width="3" height="8" fill="#fff"/>
<rect x="293" y="53" width="1" height="55" fill="#000"/>
<rect x="291" y="58" width="5" height="19" fill="#000"/>
<rect x="301" y="61" width="1" height="22" fill="#000"/>
<rect x="299" y="77" width="5" height="5" fill="#000"/>
<rect x="309" y="69" width="1" height="27" fill="#000"/>
<rect x="307" y="80" width="5" height="4" fill="#000"/>
<rect x="317" y="79" width="1" height="44" fill="#000"/>
<rect x="315" y="81" width="5" height="25" fill="#000"/>
<rect x="325" y="93" width="1" height="23" fill="#000"/>
<rect x="323" y="96" width="5" height="11" fill="#000"/>
<rect x="324" y="97" width="3" height="9" fill="#fff"/>
<rect x="333" y="87" width="1" height="26" fill="#000"/>
<rect x="331" y="96" width="5" height="5" fill="#000"/>
<rect x="341" y="55" width="1" height="55" fill="#000"/>
<rect x="339" y="75" width="5" height="27" fill="#000"/>
<rect x="340" y="76" width="3" height="25" fill="#fff"/>
<rect x="349" y="71" width="1" height="15" fill="#000"/>
<rect x="347" y="76" width="5" height="1" fill="#000"/>
<rect x="357" y="62" width="1" height="40" fill="#000"/>
<rect x="355" y="69" width="5" height="7" fill="#000"/>
<rect x="356" y="70" width="3" height="5" fill="#fff"/>
<rect x="365" y="57" width="1" height="66" fill="#000"/>
<rect x="363" y="69" width="5" height="42" fill="#000"/>
<rect x="373" y="110" width="1" height="37" fill="#000"/>
<rect x="371" y="110" width="5" height="13" fill="#000"/>
<rect x="381" y="114" width="1" height="25" fill="#000"/>
<rect x="379" y="122" width="5" height="13" fill="#000"/>
<rect x="389" y="131" width="1" height="58" fill="#000"/>
<rect x="387" y="134" width="5" height="49" fill="#000"/>
<rect x="397" y="121" width="1" height="82" fill="#000"/>
<rect x="395" y="138" width="5" height="45" fill="#000"/>
<rect x="396" y="139" width="3" height="43" fill="#fff"/>
<rect x="405" y="125" width="1" height="49" fill="#000"/>
<rect x="403" y="126" width="5" height="14" fill="#000"/>
<rect x="404" y="127" width="3" height="12" fill="#fff"/>
<rect x="413" y="111" width="1" height="37" fill="#000"/>
<rect x="411" y="127" width="5" height="19" fill="#000"/>
<rect x="421" y="119" width="1" height="32" fill="#000"/>
<rect x="419" y="145" width="5" height="1" fill="#000"/>
<rect x="429" y="141" width="1" height="66" fill="#000"/>
<rect x="427" y="145" width="5" height="40" fill="#000"/>
<rect x="437" y="158" width="1" height="49" fill="#000"/>
<rect x="435" y="160" width="5" height="25" fill="#000"/>
<rect x="436" y="161" width="3" height="23" fill="#fff"/>
<rect x="445" y="158" width="1" height="28" fill="#000"/>
<rect x="443" y="161" width="5" height="14" fill="#000"/>
<rect x="453" y="161" width="1" height="26" fill="#000"/>
<rect x="451" y="162" width="5" height="13" fill="#000"/>
<rect x="452" y="163" width="3" height="11" fill="#fff"/>
<rect x="461" y="153" width="1" height="34" fill="#000"/>
<rect x="459" y="162" width="5" height="1" fill="#000"/>
<rect x="469" y="140" width="1" height="37" fill="#000"/>
<rect x="467" y="155" width="5" height="8" fill="#000"/>
<rect x="468" y="156" width="3" height="6" fill="#fff"/>
<rect x="477" y="122" width="1" height="40" fill="#000"/>
<rect x="475" y="124" width="5" height="33" fill="#000"/>
<rect x="476" y="125" width="3" height="31" fill="#fff"/>
<rect x="485" y="118" width="1" height="51" fill="#000"/>
<rect x="483" y="124" width="5" height="43" fill="#000"/>
<rect x="493" y="152" width="1" height="24" fill="#000"/>
<rect x="491" y="155" width="5" height="12" fill="#000"/>
<rect x="492" y="156" width="3" height="10" fill="#fff"/>
<rect x="501" y="167" width="1" height="36" fill="#000"/>
<rect x="499" y="169" width="5" height="13" fill="#000"/>
<rect x="509" y="159" width="1" height="24" fill="#000"/>
<rect x="507" y="167" width="5" height="15" fill="#000"/>
<rect x="508" y="168" width="3" height="13" fill="#fff"/>
<rect x="517" y="140" width="1" height="29" fill="#000"/>
<rect x="515" y="143" width="5" height="24" fill="#000"/>
<rect x="516" y="144" width="3" height="22" fill="#fff"/>
<rect x="525" y="134" width="1" height="51" fill="#000"/>
<rect x="523" y="143" width="5" height="37" fill="#000"/>
<rect x="533" y="174" width="1" height="17" fill="#000"/>
<rect x="531" y="179" width="5" height="1" fill="#000"/>
<rect x="541" y="172" width="1" height="19" fill="#000"/>
<rect x="539" y="174" width="5" height="6" fill="#000"/>
<rect x="540" y="175" width="3" height="4" fill="#fff"/>
<rect x="549" y="159" width="1" height="35" fill="#000"/>
<rect x="547" y="174" width="5" height="6" fill="#000"/>
<rect x="557" y="165" width="1" height="38" fill="#000"/>
<rect x="555" y="180" width="5" height="1" fill="#000"/>
<rect x="565" y="153" width="1" height="32" fill="#000"/>
<rect x="563" y="174" width="5" height="7" fill="#000"/>
<rect x="564" y="175" width="3" height="5" fill="#fff"/>
<rect x="573" y="150" width="1" height="26" fill="#000"/>
<rect x="571" y="157" width="5" height="18" fill="#000"/>
<rect x="572" y="158" width="3" height="16" fill="#fff"/>
<rect x="581" y="144" width="1" height="24" fill="#000"/>
<rect x="579" y="147" width="5" height="10" fill="#000"/>
<rect x="580" y="148" width="3" height="8" fill="#fff"/>
<rect x="589" y="124" width="1" height="29" fill="#000"/>
<rect x="587" y="127" width="5" height="22" fill="#000"/>
<rect x="588" y="128" width="3" height="20" fill="#fff"/>
<rect x="597" y="96" width="1" height="42" fill="#000"/>
<rect x="595" y="127" width="5" height="3" fill="#000"/>
<rect x="605" y="119" width="1" height="26" fill="#000"/>
<rect x="603" y="127" width="5" height="3" fill="#000"/>
<rect x="604" y="128" width="3" height="1" fill="#fff"/>
<rect x="613" y="115" width="1" height="25" fill="#000"/>
<rect x="611" y="127" width="5" height="8" fill="#000"/>
<rect x="621" y="108" width="1" height="41" fill="#000"/>
<rect x="619" y="110" width="5" height="24" fill="#000"/>
<rect x="620" y="111" width="3" height="22" fill="#fff"/>
<rect x="629" y="89" width="1" height="25" fill="#000"/>
<rect x="627" y="89" width="5" height="21" fill="#000"/>
<rect x="628" y="90" width="3" height="19" fill="#fff"/>
<rect x="637" y="89" width="1" height="17" fill="#000"/>
<rect x="635" y="89" width="5" height="7" fill="#000"/>
<rect x="645" y="90" width="1" height="38" fill="#000"/>
<rect x="643" y="95" width="5" height="27" fill="#000"/>
<rect x="653" y="111" width="1" height="31" fill="#000"/>
<rect x="651" y="121" width="5" height="17" fill="#000"/>
<rect x="661" y="122" width="1" height="24" fill="#000"/>
<rect x="659" y="133" width="5" height="5" fill="#000"/>
<rect x="660" y="134" width="3" height="3" fill="#fff"/>
<rect x="669" y="131" width="1" height="106" fill="#000"/>
<rect x="667" y="133" width="5" height="75" fill="#000"/>
<rect x="677" y="187" width="1" height="46" fill="#000"/>
<rect x="675" y="206" width="5" height="19" fill="#000"/>
<rect x="685" y="214" width="1" height="20" fill="#000"/>
<rect x="683" y="221" width="5" height="3" fill="#000"/>
<rect x="684" y="222" width="3" height="1" fill="#fff"/>
<rect x="693" y="165" width="1" height="57" fill="#000"/>
<rect x="691" y="182" width="5" height="39" fill="#000"/>
<rect x="692" y="183" width="3" height="37" fill="#fff"/>
<rect x="701" y="180" width="1" height="130" fill="#000"/>
<rect x="699" y="182" width="5" height="115" fill="#000"/>
<rect x="709" y="259" width="1" height="45" fill="#000"/>
<rect x="707" y="291" width="5" height="6" fill="#000"/>
<rect x="708" y="292" width="3" height="4" fill="#fff"/>
<rect x="717" y="249" width="1" height="53" fill="#000"/>
<rect x="715" y="293" width="5" height="1" fill="#000"/>
<rect x="725" y="289" width="1" height="20" fill="#000"/>
<rect x="723" y="293" width="5" height="4" fill="#000"/>
<rect x="733" y="187" width="1" height="73" fill="#000"/>
<rect x="731" y="211" width="5" height="38" fill="#000"/>
<rect x="732" y="212" width="3" height="36" fill="#fff"/>
<rect x="741" y="194" width="1" height="29" fill="#000"/>
<rect x="739" y="201" width="5" height="10" fill="#000"/>
<rect x="740" y="202" width="3" height="8" fill="#fff"/>
<rect x="749" y="178" width="1" height="71" fill="#000"/>
<rect x="747" y="201" width="5" height="26" fill="#000"/>
<rect x="757" y="202" width="1" height="55" fill="#000"/>
<rect x="755" y="214" width="5" height="13" fill="#000"/>
<rect x="756" y="215" width="3" height="11" fill="#fff"/>
<rect x="765" y="212" width="1" height="13" fill="#000"/>
<rect x="763" y="214" width="5" height="8" fill="#000"/>
<rect x="773" y="210" width="1" height="20" fill="#000"/>
<rect x="771" y="216" width="5" height="7" fill="#000"/>
<rect x="772" y="217" width="3" height="5" fill="#fff"/>
<rect x="781" y="175" width="1" height="50" fill="#000"/>
<rect x="779" y="207" width="5" height="14" fill="#000"/>
<rect x="780" y="208" width="3" height="12" fill="#fff"/>
<rect x="789" y="191" width="1" height="55" fill="#000"/>
<rect x="787" y="207" width="5" height="25" fill="#000"/>
<rect x="797" y="208" width="1" height="43" fill="#000"/>
<rect x="795" y="226" width="5" height="6" fill="#000"/>
<rect x="796" y="227" width="3" height="4" fill="#fff"/>
<rect x="805" y="200" width="1" height="43" fill="#000"/>
<rect x="803" y="226" width="5" height="11" fill="#000"/>
<rect x="813" y="214" width="1" height="31" fill="#000"/>
<rect x="811" y="219" width="5" height="18" fill="#000"/>
<rect x="812" y="220" width="3" height="16" fill="#fff"/>
<rect x="821" y="218" width="1" height="18" fill="#000"/>
<rect x="819" y="219" width="5" height="5" fill="#000"/>
<rect x="829" y="206" width="1" height="25" fill="#000"/>
<rect x="827" y="223" width="5" height="7" fill="#000"/>
<rect x="837" y="157" width="1" height="73" fill="#000"/>
<rect x="835" y="157" width="5" height="73" fill="#000"/>
<rect x="836" y="158" width="3" height="71" fill="#fff"/>
<rect x="845" y="129" width="1" height="55" fill="#000"/>
<rect x="843" y="139" width="5" height="19" fill="#000"/>
<rect x="844" y="140" width="3" height="17" fill="#fff"/>
<rect x="853" y="139" width="1" height="43" fill="#000"/>
<rect x="851" y="139" width="5" height="35" fill="#000"/>
<rect x="861" y="169" width="1" height="33" fill="#000"/>
<rect x="859" y="173" width="5" height="24" fill="#000"/>
<rect x="869" y="192" width="1" height="18" fill="#000"/>
<rect x="867" y="194" width="5" height="4" fill="#000"/>
<rect x="868" y="195" width="3" height="2" fill="#fff"/>
<rect x="877" y="186" width="1" height="27" fill="#000"/>
<rect x="875" y="195" width="5" height="11" fill="#000"/>
<rect x="885" y="187" width="1" height="40" fill="#000"/>
<rect x="883" y="205" width="5" height="17" fill="#000"/>
<rect x="893" y="192" width="1" height="32" fill="#000"/>
<rect x="891" y="217" width="5" height="5" fill="#000"/>
<rect x="892" y="218" width="3" height="3" fill="#fff"/>
<rect x="901" y="187" width="1" height="39" fill="#000"/>
<rect x="899" y="213" width="5" height="5" fill="#000"/>
<rect x="900" y="214" width="3" height="3" fill="#fff"/>
<rect x="909" y="190" width="1" height="25" fill="#000"/>
<rect x="907" y="200" width="5" height="14" fill="#000"/>
<rect x="908" y="201" width="3" height="12" fill="#fff"/>
<rect x="917" y="200" width="1" height="21" fill="#000"/>
<rect x="915" y="200" width="5" height="16" fill="#000"/>
<rect x="925" y="193" width="1" height="35" fill="#000"/>
<rect x="923" y="203" width="5" height="13" fill="#000"/>
<rect x="924" y="204" width="3" height="11" fill="#fff"/>
<rect x="933" y="199" width="1" height="15" fill="#000"/>
<rect x="931" y="203" width="5" height="1" fill="#000"/>
<rect x="941" y="196" width="1" height="28" fill="#000"/>
<rect x="939" y="204" width="5" height="8" fill="#000"/>
<rect x="949" y="204" width="1" height="49" fill="#000"/>
<rect x="947" y="211" width="5" height="19" fill="#000"/>
<rect x="957" y="217" width="1" height="26" fill="#000"/>
<rect x="955" y="228" width="5" height="15" fill="#000"/>
<rect x="965" y="232" width="1" height="39" fill="#000"/>
<rect x="963" y="235" width="5" height="25" fill="#000"/>
<rect x="973" y="253" width="1" height="25" fill="#000"/>
<rect x="971" y="258" width="5" height="17" fill="#000"/>
<rect x="981" y="210" width="1" height="66" fill="#000"/>
<rect x="979" y="213" width="5" height="62" fill="#000"/>
<rect x="980" y="214" width="3" height="60" fill="#fff"/>
<rect x="989" y="192" width="1" height="32" fill="#000"/>
<rect x="987" y="193" width="5" height="22" fill="#000"/>
<rect x="988" y="194" width="3" height="20" fill="#fff"/>
<rect x="997" y="174" width="1" height="20" fill="#000"/>
<rect x="995" y="177" width="5" height="17" fill="#000"/>
<rect x="996" y="178" width="3" height="15" fill="#fff"/>
<rect x="1005" y="176" width="1" height="11" fill="#000"/>
<rect x="1003" y="177" width="5" height="2" fill="#000"/>
<rect x="1013" y="155" width="1" height="51" fill="#000"/>
<rect x="1011" y="179" width="5" height="16" fill="#000"/>
<rect x="1021" y="172" width="1" height="32" fill="#000"/>
<rect x="1019" y="172" width="5" height="23" fill="#000"/>
<rect x="1020" y="173" width="3" height="21" fill="#fff"/>
<rect x="1029" y="164" width="1" height="54" fill="#000"/>
<rect x="1027" y="172" width="5" height="39" fill="#000"/>
<rect x="1037" y="186" width="1" height="35" fill="#000"/>
<rect x="1035" y="210" width="5" height="1" fill="#000"/>
<rect x="1045" y="189" width="1" height="23" fill="#000"/>
<rect x="1043" y="194" width="5" height="16" fill="#000"/>
<rect x="1044" y="195" width="3" height="14" fill="#fff"/>
<rect x="1053" y="187" width="1" height="26" fill="#000"/>
<rect x="1051" y="194" width="5" height="2" fill="#000"/>
<rect x="1061" y="191" width="1" height="38" fill="#000"/>
<rect x="1059" y="194" width="5" height="31" fill="#000"/>
<rect x="1069" y="200" width="1" height="28" fill="#000"/>
<rect x="1067" y="220" width="5" height="5" fill="#000"/>
<rect x="1068" y="221" width="3" height="3" fill="#fff"/>
<rect x="1077" y="215" width="1" height="32" fill="#000"/>
<rect x="1075" y="220" width="5" height="16" fill="#000"/>
<rect x="1085" y="217" width="1" height="96" fill="#000"/>
<rect x="1083" y="235" width="5" height="69" fill="#000"/>
<rect x="1093" y="299" width="1" height="26" fill="#000"/>
<rect x="1091" y="303" width="5" height="11" fill="#000"/>
<rect x="1101" y="298" width="1" height="24" fill="#000"/>
<rect x="1099" y="311" width="5" height="3" fill="#000"/>
<rect x="1100" y="312" width="3" height="1" fill="#fff"/>
<rect x="1109" y="265" width="1" height="61" fill="#000"/>
<rect x="1107" y="270" width="5" height="38" fill="#000"/>
<rect x="1108" y="271" width="3" height="36" fill="#fff"/>
<rect x="1117" y="260" width="1" height="38" fill="#000"/>
<rect x="1115" y="270" width="5" height="19" fill="#000"/>
<rect x="1125" y="277" width="1" height="27" fill="#000"/>
<rect x="1123" y="284" width="5" height="5" fill="#000"/>
<rect x="1124" y="285" width="3" height="3" fill="#fff"/>
<rect x="1133" y="262" width="1" height="26" fill="#000"/>
<rect x="1131" y="283" width="5" height="2" fill="#000"/>
<rect x="1141" y="266" width="1" height="20" fill="#000"/>
<rect x="1139" y="280" width="5" height="4" fill="#000"/>
<rect x="1140" y="281" width="3" height="2" fill="#fff"/>
<rect x="1149" y="276" width="1" height="10" fill="#000"/>
<rect x="1147" y="280" width="5" height="1" fill="#000"/>
<rect x="1157" y="271" width="1" height="25" fill="#000"/>
<rect x="1155" y="279" width="5" height="9" fill="#000"/>
<rect x="1165" y="285" width="1" height="51" fill="#000"/>
<rect x="1163" y="287" width="5" height="37" fill="#000"/>
<rect x="1173" y="289" width="1" height="39" fill="#000"/>
<rect x="1171" y="293" width="5" height="30" fill="#000"/>
<rect x="1172" y="294" width="3" height="28" fill="#fff"/>
<rect x="1181" y="269" width="1" height="41" fill="#000"/>
<rect x="1179" y="276" width="5" height="18" fill="#000"/>
<rect x="1180" y="277" width="3" height="16" fill="#fff"/>
<rect x="1189" y="276" width="1" height="10" fill="#000"/>
<rect x="1187" y="276" width="5" height="9" fill="#000"/>
<rect x="1197" y="265" width="1" height="43" fill="#000"/>
<rect x="1195" y="272" width="5" height="23" fill="#000"/>
<rect x="1196" y="273" width="3" height="21" fill="#fff"/>
<rect x="1205" y="269" width="1" height="27" fill="#000"/>
<rect x="1203" y="272" width="5" height="21" fill="#000"/>
<rect x="1213" y="284" width="1" height="31" fill="#000"/>
<rect x="1211" y="292" width="5" height="11" fill="#000"/>
<rect x="1221" y="295" width="1" height="28" fill="#000"/>
<rect x="1219" y="302" width="5" height="19" fill="#000"/>
<rect x="1229" y="305" width="1" height="18" fill="#000"/>
<rect x="1227" y="307" width="5" height="14" fill="#000"/>
<rect x="1228" y="308" width="3" height="12" fill="#fff"/>
<rect x="1237" y="305" width="1" height="20" fill="#000"/>
<rect x="1235" y="307" width="5" height="1" fill="#000"/>
<rect x="1245" y="308" width="1" height="95" fill="#000"/>
<rect x="1243" y="309" width="5" height="93" fill="#000"/>
<rect x="1253" y="396" width="1" height="64" fill="#000"/>
<rect x="1251" y="401" width="5" height="41" fill="#000"/>
<rect x="1261" y="440" width="1" height="84" fill="#000"/>
<rect x="1259" y="440" width="5" height="64" fill="#000"/>
<rect x="1269" y="498" width="1" height="54" fill="#000"/>
<rect x="1267" y="503" width="5" height="35" fill="#000"/>
<rect x="1277" y="531" width="1" height="35" fill="#000"/>
<rect x="1275" y="533" width="5" height="6" fill="#000"/>
<rect x="1276" y="534" width="3" height="4" fill="#fff"/>
<rect x="1285" y="523" width="1" height="39" fill="#000"/>
<rect x="1283" y="533" width="5" height="5" fill="#000"/>
<rect x="1293" y="482" width="1" height="65" fill="#000"/>
<rect x="1291" y="499" width="5" height="35" fill="#000"/>
<rect x="1292" y="500" width="3" height="33" fill="#fff"/>
<rect x="1301" y="462" width="1" height="61" fill="#000"/>
<rect x="1299" y="479" width="5" height="21" fill="#000"/>
<rect x="1300" y="480" width="3" height="19" fill="#fff"/>
<rect x="1309" y="461" width="1" height="36" fill="#000"/>
<rect x="1307" y="477" width="5" height="1" fill="#000"/>
<rect x="1317" y="455" width="1" height="37" fill="#000"/>
<rect x="1315" y="465" width="5" height="11" fill="#000"/>
<rect x="1316" y="466" width="3" height="9" fill="#fff"/>
<rect x="1325" y="453" width="1" height="21" fill="#000"/>
<rect x="1323" y="456" width="5" height="10" fill="#000"/>
<rect x="1324" y="457" width="3" height="8" fill="#fff"/>
<rect x="1333" y="452" width="1" height="20" fill="#000"/>
<rect x="1331" y="456" width="5" height="8" fill="#000"/>
<rect x="1341" y="456" width="1" height="48" fill="#000"/>
<rect x="1339" y="461" width="5" height="26" fill="#000"/>
<rect x="1349" y="431" width="1" height="56" fill="#000"/>
<rect x="1347" y="447" width="5" height="40" fill="#000"/>
<rect x="1348" y="448" width="3" height="38" fill="#fff"/>
<rect x="1357" y="440" width="1" height="26" fill="#000"/>
<rect x="1355" y="447" width="5" height="1" fill="#000"/>
<rect x="1365" y="440" width="1" height="47" fill="#000"/>
<rect x="1363" y="447" width="5" height="36" fill="#000"/>
<rect x="1373" y="443" width="1" height="42" fill="#000"/>
<rect x="1371" y="451" width="5" height="32" fill="#000"/>
<rect x="1372" y="452" width="3" height="30" fill="#fff"/>
<rect x="1381" y="451" width="1" height="14" fill="#000"/>
<rect x="1379" y="451" width="5" height="14" fill="#000"/>
</g>
<path d="M1393 27 L1402 27 L1397.5 32 Z" fill="#c0c0c0"/>
<defs><linearGradient id="gbtn" x1="0" y1="0" x2="0" y2="1"><stop offset="0" stop-color="#5858ff"/><stop offset="1" stop-color="#3434e2"/></linearGradient><linearGradient id="gpx" x1="0" y1="0" x2="0" y2="1"><stop offset="0" stop-color="#2e2ee0"/><stop offset="1" stop-color="#0202b2"/></linearGradient><linearGradient id="ggray" x1="0" y1="0" x2="0" y2="1"><stop offset="0" stop-color="#f2f2f2"/><stop offset="0.45" stop-color="#e9e9e9"/><stop offset="0.5" stop-color="#dcdcdc"/><stop offset="1" stop-color="#d2d2d2"/></linearGradient></defs>
<g shape-rendering="crispEdges">
<rect x="0" y="46" width="44" height="25" fill="#0000a8"/>
<rect x="0" y="47" width="43" height="22" fill="url(#gbtn)"/>
<rect x="0" y="69" width="40" height="1" fill="#00008c"/>
<rect x="0" y="70" width="40" height="1" fill="#7676ff"/>
<rect x="40" y="69" width="3" height="2" fill="#3434e2"/>
<rect x="159" y="46" width="53" height="25" fill="#0000a8"/>
<rect x="160" y="47" width="51" height="22" fill="url(#gbtn)"/>
<rect x="163" y="69" width="45" height="1" fill="#00008c"/>
<rect x="163" y="70" width="45" height="1" fill="#7676ff"/>
<rect x="0" y="71" width="101" height="32" fill="url(#gpx)"/>
<rect x="103" y="71" width="109" height="32" fill="url(#gpx)"/>
<rect x="43" y="70" width="117" height="1" fill="#0000a8"/>
<rect x="160" y="69" width="3" height="2" fill="#3434e2"/>
<rect x="208" y="69" width="3" height="2" fill="#3434e2"/>
<rect x="46" y="46" width="112" height="22" fill="#a3a3a3"/>
<rect x="47" y="47" width="110" height="20" fill="#ffffff"/>
<rect x="47" y="47" width="20" height="20" fill="#f5f5f5"/>
<rect x="48" y="48" width="19" height="19" fill="url(#ggray)"/>
<rect x="67" y="47" width="1" height="20" fill="#a3a3a3"/>
<rect x="136" y="47" width="21" height="20" fill="#f5f5f5"/>
<rect x="137" y="48" width="19" height="19" fill="url(#ggray)"/>
<rect x="135" y="47" width="1" height="20" fill="#a3a3a3"/>
</g>
<path d="M53.5 55 L59.5 55 L56.5 58.5 Z" fill="#4a5cc4"/>
<path d="M142.5 58.5 L148.5 58.5 L145.5 55 Z" fill="#4a5cc4"/>
<text x="131.5" y="60.5" font-size="12" fill="#111" text-anchor="end" font-family="'Liberation Sans', Arial, sans-serif" font-weight="normal" textLength="23" lengthAdjust="spacingAndGlyphs">1.00</text>
<text x="4.5" y="62" font-size="12.3" fill="#fff" text-anchor="start" font-family="'Liberation Sans', Arial, sans-serif" font-weight="normal" textLength="25.5" lengthAdjust="spacingAndGlyphs">SELL</text>
<text x="172.5" y="62" font-size="12.3" fill="#fff" text-anchor="start" font-family="'Liberation Sans', Arial, sans-serif" font-weight="normal" textLength="23.5" lengthAdjust="spacingAndGlyphs">BUY</text>
<text x="12" y="98" font-size="11.2" fill="#fff" text-anchor="start" font-family="'Liberation Sans', Arial, sans-serif" font-weight="bold" textLength="24" lengthAdjust="spacingAndGlyphs">6.39</text>
<text x="41" y="98" font-size="33.5" fill="#fff" text-anchor="start" font-family="'Liberation Sans', Arial, sans-serif" font-weight="normal" textLength="32.5" lengthAdjust="spacingAndGlyphs">12</text>
<text x="79.5" y="82" font-size="12" fill="#fff" text-anchor="start" font-family="'Liberation Sans', Arial, sans-serif" font-weight="bold" textLength="6.5" lengthAdjust="spacingAndGlyphs">5</text>
<text x="122" y="98" font-size="11.2" fill="#fff" text-anchor="start" font-family="'Liberation Sans', Arial, sans-serif" font-weight="bold" textLength="24" lengthAdjust="spacingAndGlyphs">6.39</text>
<text x="151.5" y="98" font-size="33.5" fill="#fff" text-anchor="start" font-family="'Liberation Sans', Arial, sans-serif" font-weight="normal" textLength="33" lengthAdjust="spacingAndGlyphs">65</text>
<text x="190.5" y="82" font-size="12" fill="#fff" text-anchor="start" font-family="'Liberation Sans', Arial, sans-serif" font-weight="bold" textLength="6.5" lengthAdjust="spacingAndGlyphs">2</text>
<path d="M50.5 43 L52.5 45 L50.5 47 L48.5 45 Z" fill="none" stroke="#000" stroke-width="1"/>
<text x="4" y="38" font-size="10.3" fill="#000" text-anchor="start" font-family="'Liberation Sans', Arial, sans-serif" font-weight="normal" textLength="205" lengthAdjust="spacingAndGlyphs" stroke="#000" stroke-width="0.25">USDCNH-,H4&#160;&#160;6.39430 6.39430 6.39125 6.39125</text>
<rect x="1650" y="408" width="41" height="11" fill="#ff0000" shape-rendering="crispEdges"/>
<text x="1653.5" y="417.5" font-size="10.3" fill="#fff" text-anchor="start" font-family="'Liberation Sans', Arial, sans-serif" font-weight="normal" textLength="32" lengthAdjust="spacingAndGlyphs" stroke="#fff" stroke-width="0.25">6.40301</text>
<rect x="1650" y="434" width="41" height="11" fill="#ff0000" shape-rendering="crispEdges"/>
<text x="1653.5" y="443.5" font-size="10.3" fill="#fff" text-anchor="start" font-family="'Liberation Sans', Arial, sans-serif" font-weight="normal" textLength="32" lengthAdjust="spacingAndGlyphs" stroke="#fff" stroke-width="0.25">6.39696</text>
<rect x="1650" y="459" width="41" height="11" fill="#000000" shape-rendering="crispEdges"/>
<text x="1653.5" y="468.5" font-size="10.3" fill="#fff" text-anchor="start" font-family="'Liberation Sans', Arial, sans-serif" font-weight="normal" textLength="32" lengthAdjust="spacingAndGlyphs" stroke="#fff" stroke-width="0.25">6.39125</text>
<rect x="1650" y="473" width="41" height="11" fill="#ffa500" shape-rendering="crispEdges"/>
<text x="1653.5" y="482.5" font-size="10.3" fill="#fff" text-anchor="start" font-family="'Liberation Sans', Arial, sans-serif" font-weight="normal" textLength="32" lengthAdjust="spacingAndGlyphs" stroke="#fff" stroke-width="0.25">6.38788</text>
<rect x="1650" y="494" width="41" height="11" fill="#0000ff" shape-rendering="crispEdges"/>
<text x="1653.5" y="503.5" font-size="10.3" fill="#fff" text-anchor="start" font-family="'Liberation Sans', Arial, sans-serif" font-weight="normal" textLength="32" lengthAdjust="spacingAndGlyphs" stroke="#fff" stroke-width="0.25">6.38299</text>
<rect x="1650" y="515" width="41" height="11" fill="#0000ff" shape-rendering="crispEdges"/>
<text x="1653.5" y="524.5" font-size="10.3" fill="#fff" text-anchor="start" font-family="'Liberation Sans', Arial, sans-serif" font-weight="normal" textLength="32" lengthAdjust="spacingAndGlyphs" stroke="#fff" stroke-width="0.25">6.37805</text>
<rect x="942.5" y="146.5" width="61" height="18" fill="#fff" stroke="#ff0000" stroke-width="1" shape-rendering="crispEdges"/>
<text x="944.5" y="161" font-size="16.5" fill="#ff0000" text-anchor="start" font-family="'Liberation Sans', Arial, sans-serif" font-weight="normal" textLength="57" lengthAdjust="spacingAndGlyphs">6.46346</text>
<path d="M1004 155.5 H1013" stroke="#ff0000" shape-rendering="crispEdges"/>
<path d="M1118 479.5 H1128" stroke="#ff0000" shape-rendering="crispEdges"/>
<rect x="1128.5" y="467.5" width="73" height="24" fill="#fff" stroke="#ff0000" stroke-width="1" shape-rendering="crispEdges"/>
<text x="1130.5" y="488" font-size="21.5" fill="#ff0000" text-anchor="start" font-family="'Liberation Sans', Arial, sans-serif" font-weight="normal" textLength="69" lengthAdjust="spacingAndGlyphs" stroke="#ff0000" stroke-width="0.3">6.38788</text>
<rect x="1206.5" y="557.5" width="61" height="18" fill="#fff" stroke="#ff0000" stroke-width="1" shape-rendering="crispEdges"/>
<text x="1208.5" y="572" font-size="16.5" fill="#ff0000" text-anchor="start" font-family="'Liberation Sans', Arial, sans-serif" font-weight="normal" textLength="57" lengthAdjust="spacingAndGlyphs">6.36763</text>
<path d="M1268 566.5 H1274" stroke="#ff0000" shape-rendering="crispEdges"/>
<g fill="#ff0000" stroke="none">
<path d="M1208.3 277 L1277.3 566" stroke="#ff0000" stroke-width="3.2" fill="none"/>
<path d="M1272.2 565 L1280.8 562.2 L1278.3 575.2 Z"/>
<path d="M1278 572 L1378 457.5" stroke="#ff0000" stroke-width="3.2" fill="none"/>
<path d="M1384 451 L1372.5 457.5 L1378.5 463.5 Z"/>
</g>
<rect x="1258" y="474" width="178" height="8" fill="#00ff00" shape-rendering="crispEdges"/>
<text x="-6" y="594" font-size="10.3" fill="#000" text-anchor="start" font-family="'Liberation Sans', Arial, sans-serif" font-weight="normal" textLength="152" lengthAdjust="spacingAndGlyphs" stroke="#000" stroke-width="0.25">MACD(12,26,9) -0.008376 -0.011182</text>
<g shape-rendering="crispEdges" clip-path="url(#cmacd)">
<rect x="5" y="652" width="1" height="18" fill="#c0c0c0"/>
<rect x="13" y="652" width="1" height="26" fill="#c0c0c0"/>
<rect x="21" y="652" width="1" height="27" fill="#c0c0c0"/>
<rect x="29" y="652" width="1" height="26" fill="#c0c0c0"/>
<rect x="37" y="652" width="1" height="22" fill="#c0c0c0"/>
<rect x="45" y="652" width="1" height="17" fill="#c0c0c0"/>
<rect x="53" y="652" width="1" height="15" fill="#c0c0c0"/>
<rect x="61" y="652" width="1" height="15" fill="#c0c0c0"/>
<rect x="69" y="652" width="1" height="16" fill="#c0c0c0"/>
<rect x="77" y="652" width="1" height="16" fill="#c0c0c0"/>
<rect x="85" y="652" width="1" height="15" fill="#c0c0c0"/>
<rect x="93" y="652" width="1" height="16" fill="#c0c0c0"/>
<rect x="101" y="652" width="1" height="16" fill="#c0c0c0"/>
<rect x="109" y="652" width="1" height="20" fill="#c0c0c0"/>
<rect x="117" y="652" width="1" height="21" fill="#c0c0c0"/>
<rect x="125" y="652" width="1" height="21" fill="#c0c0c0"/>
<rect x="133" y="652" width="1" height="20" fill="#c0c0c0"/>
<rect x="141" y="652" width="1" height="22" fill="#c0c0c0"/>
<rect x="149" y="652" width="1" height="24" fill="#c0c0c0"/>
<rect x="157" y="652" width="1" height="27" fill="#c0c0c0"/>
<rect x="165" y="652" width="1" height="29" fill="#c0c0c0"/>
<rect x="173" y="652" width="1" height="30" fill="#c0c0c0"/>
<rect x="181" y="652" width="1" height="28" fill="#c0c0c0"/>
<rect x="189" y="652" width="1" height="22" fill="#c0c0c0"/>
<rect x="197" y="652" width="1" height="17" fill="#c0c0c0"/>
<rect x="205" y="652" width="1" height="9" fill="#c0c0c0"/>
<rect x="213" y="652" width="1" height="3" fill="#c0c0c0"/>
<rect x="221" y="650" width="1" height="3" fill="#c0c0c0"/>
<rect x="229" y="647" width="1" height="6" fill="#c0c0c0"/>
<rect x="237" y="645" width="1" height="8" fill="#c0c0c0"/>
<rect x="245" y="641" width="1" height="12" fill="#c0c0c0"/>
<rect x="253" y="632" width="1" height="21" fill="#c0c0c0"/>
<rect x="261" y="625" width="1" height="28" fill="#c0c0c0"/>
<rect x="269" y="614" width="1" height="39" fill="#c0c0c0"/>
<rect x="277" y="604" width="1" height="49" fill="#c0c0c0"/>
<rect x="285" y="597" width="1" height="56" fill="#c0c0c0"/>
<rect x="293" y="593" width="1" height="60" fill="#c0c0c0"/>
<rect x="301" y="592" width="1" height="61" fill="#c0c0c0"/>
<rect x="309" y="591" width="1" height="62" fill="#c0c0c0"/>
<rect x="317" y="594" width="1" height="59" fill="#c0c0c0"/>
<rect x="325" y="596" width="1" height="57" fill="#c0c0c0"/>
<rect x="333" y="597" width="1" height="56" fill="#c0c0c0"/>
<rect x="341" y="598" width="1" height="55" fill="#c0c0c0"/>
<rect x="349" y="599" width="1" height="54" fill="#c0c0c0"/>
<rect x="357" y="600" width="1" height="53" fill="#c0c0c0"/>
<rect x="365" y="605" width="1" height="48" fill="#c0c0c0"/>
<rect x="373" y="611" width="1" height="42" fill="#c0c0c0"/>
<rect x="381" y="617" width="1" height="36" fill="#c0c0c0"/>
<rect x="389" y="627" width="1" height="26" fill="#c0c0c0"/>
<rect x="397" y="631" width="1" height="22" fill="#c0c0c0"/>
<rect x="405" y="633" width="1" height="20" fill="#c0c0c0"/>
<rect x="413" y="637" width="1" height="16" fill="#c0c0c0"/>
<rect x="421" y="640" width="1" height="13" fill="#c0c0c0"/>
<rect x="429" y="647" width="1" height="6" fill="#c0c0c0"/>
<rect x="437" y="650" width="1" height="3" fill="#c0c0c0"/>
<rect x="445" y="652" width="1" height="1" fill="#c0c0c0"/>
<rect x="453" y="652" width="1" height="2" fill="#c0c0c0"/>
<rect x="461" y="652" width="1" height="3" fill="#c0c0c0"/>
<rect x="469" y="652" width="1" height="4" fill="#c0c0c0"/>
<rect x="477" y="652" width="1" height="1" fill="#c0c0c0"/>
<rect x="485" y="652" width="1" height="2" fill="#c0c0c0"/>
<rect x="493" y="652" width="1" height="3" fill="#c0c0c0"/>
<rect x="501" y="652" width="1" height="6" fill="#c0c0c0"/>
<rect x="509" y="652" width="1" height="7" fill="#c0c0c0"/>
<rect x="517" y="652" width="1" height="4" fill="#c0c0c0"/>
<rect x="525" y="652" width="1" height="7" fill="#c0c0c0"/>
<rect x="533" y="652" width="1" height="8" fill="#c0c0c0"/>
<rect x="541" y="652" width="1" height="9" fill="#c0c0c0"/>
<rect x="549" y="652" width="1" height="10" fill="#c0c0c0"/>
<rect x="557" y="652" width="1" height="11" fill="#c0c0c0"/>
<rect x="565" y="652" width="1" height="11" fill="#c0c0c0"/>
<rect x="573" y="652" width="1" height="8" fill="#c0c0c0"/>
<rect x="581" y="652" width="1" height="6" fill="#c0c0c0"/>
<rect x="589" y="652" width="1" height="2" fill="#c0c0c0"/>
<rect x="597" y="651" width="1" height="2" fill="#c0c0c0"/>
<rect x="605" y="649" width="1" height="4" fill="#c0c0c0"/>
<rect x="613" y="648" width="1" height="5" fill="#c0c0c0"/>
<rect x="621" y="644" width="1" height="9" fill="#c0c0c0"/>
<rect x="629" y="639" width="1" height="14" fill="#c0c0c0"/>
<rect x="637" y="636" width="1" height="17" fill="#c0c0c0"/>
<rect x="645" y="637" width="1" height="16" fill="#c0c0c0"/>
<rect x="653" y="639" width="1" height="14" fill="#c0c0c0"/>
<rect x="661" y="641" width="1" height="12" fill="#c0c0c0"/>
<rect x="669" y="650" width="1" height="3" fill="#c0c0c0"/>
<rect x="677" y="652" width="1" height="6" fill="#c0c0c0"/>
<rect x="685" y="652" width="1" height="12" fill="#c0c0c0"/>
<rect x="693" y="652" width="1" height="13" fill="#c0c0c0"/>
<rect x="701" y="652" width="1" height="26" fill="#c0c0c0"/>
<rect x="709" y="652" width="1" height="35" fill="#c0c0c0"/>
<rect x="717" y="652" width="1" height="41" fill="#c0c0c0"/>
<rect x="725" y="652" width="1" height="47" fill="#c0c0c0"/>
<rect x="733" y="652" width="1" height="41" fill="#c0c0c0"/>
<rect x="741" y="652" width="1" height="36" fill="#c0c0c0"/>
<rect x="749" y="652" width="1" height="33" fill="#c0c0c0"/>
<rect x="757" y="652" width="1" height="30" fill="#c0c0c0"/>
<rect x="765" y="652" width="1" height="28" fill="#c0c0c0"/>
<rect x="773" y="652" width="1" height="25" fill="#c0c0c0"/>
<rect x="781" y="652" width="1" height="22" fill="#c0c0c0"/>
<rect x="789" y="652" width="1" height="22" fill="#c0c0c0"/>
<rect x="797" y="652" width="1" height="21" fill="#c0c0c0"/>
<rect x="805" y="652" width="1" height="21" fill="#c0c0c0"/>
<rect x="813" y="652" width="1" height="19" fill="#c0c0c0"/>
<rect x="821" y="652" width="1" height="17" fill="#c0c0c0"/>
<rect x="829" y="652" width="1" height="17" fill="#c0c0c0"/>
<rect x="837" y="652" width="1" height="8" fill="#c0c0c0"/>
<rect x="845" y="652" width="1" height="1" fill="#c0c0c0"/>
<rect x="853" y="650" width="1" height="3" fill="#c0c0c0"/>
<rect x="861" y="650" width="1" height="3" fill="#c0c0c0"/>
<rect x="869" y="650" width="1" height="3" fill="#c0c0c0"/>
<rect x="877" y="651" width="1" height="2" fill="#c0c0c0"/>
<rect x="885" y="652" width="1" height="1" fill="#c0c0c0"/>
<rect x="893" y="652" width="1" height="1" fill="#c0c0c0"/>
<rect x="901" y="652" width="1" height="1" fill="#c0c0c0"/>
<rect x="909" y="652" width="1" height="1" fill="#c0c0c0"/>
<rect x="917" y="652" width="1" height="3" fill="#c0c0c0"/>
<rect x="925" y="652" width="1" height="2" fill="#c0c0c0"/>
<rect x="933" y="652" width="1" height="1" fill="#c0c0c0"/>
<rect x="941" y="652" width="1" height="3" fill="#c0c0c0"/>
<rect x="949" y="652" width="1" height="4" fill="#c0c0c0"/>
<rect x="957" y="652" width="1" height="8" fill="#c0c0c0"/>
<rect x="965" y="652" width="1" height="12" fill="#c0c0c0"/>
<rect x="973" y="652" width="1" height="17" fill="#c0c0c0"/>
<rect x="981" y="652" width="1" height="14" fill="#c0c0c0"/>
<rect x="989" y="652" width="1" height="8" fill="#c0c0c0"/>
<rect x="997" y="652" width="1" height="4" fill="#c0c0c0"/>
<rect x="1005" y="652" width="1" height="1" fill="#c0c0c0"/>
<rect x="1013" y="651" width="1" height="2" fill="#c0c0c0"/>
<rect x="1021" y="648" width="1" height="5" fill="#c0c0c0"/>
<rect x="1029" y="649" width="1" height="4" fill="#c0c0c0"/>
<rect x="1037" y="650" width="1" height="3" fill="#c0c0c0"/>
<rect x="1045" y="649" width="1" height="4" fill="#c0c0c0"/>
<rect x="1053" y="649" width="1" height="4" fill="#c0c0c0"/>
<rect x="1061" y="651" width="1" height="2" fill="#c0c0c0"/>
<rect x="1069" y="652" width="1" height="1" fill="#c0c0c0"/>
<rect x="1077" y="652" width="1" height="3" fill="#c0c0c0"/>
<rect x="1085" y="652" width="1" height="12" fill="#c0c0c0"/>
<rect x="1093" y="652" width="1" height="21" fill="#c0c0c0"/>
<rect x="1101" y="652" width="1" height="27" fill="#c0c0c0"/>
<rect x="1109" y="652" width="1" height="27" fill="#c0c0c0"/>
<rect x="1117" y="652" width="1" height="28" fill="#c0c0c0"/>
<rect x="1125" y="652" width="1" height="29" fill="#c0c0c0"/>
<rect x="1133" y="652" width="1" height="29" fill="#c0c0c0"/>
<rect x="1141" y="652" width="1" height="28" fill="#c0c0c0"/>
<rect x="1149" y="652" width="1" height="27" fill="#c0c0c0"/>
<rect x="1157" y="652" width="1" height="26" fill="#c0c0c0"/>
<rect x="1165" y="652" width="1" height="29" fill="#c0c0c0"/>
<rect x="1173" y="652" width="1" height="29" fill="#c0c0c0"/>
<rect x="1181" y="652" width="1" height="27" fill="#c0c0c0"/>
<rect x="1189" y="652" width="1" height="25" fill="#c0c0c0"/>
<rect x="1197" y="652" width="1" height="22" fill="#c0c0c0"/>
<rect x="1205" y="652" width="1" height="22" fill="#c0c0c0"/>
<rect x="1213" y="652" width="1" height="22" fill="#c0c0c0"/>
<rect x="1221" y="652" width="1" height="24" fill="#c0c0c0"/>
<rect x="1229" y="652" width="1" height="24" fill="#c0c0c0"/>
<rect x="1237" y="652" width="1" height="24" fill="#c0c0c0"/>
<rect x="1245" y="652" width="1" height="33" fill="#c0c0c0"/>
<rect x="1253" y="652" width="1" height="44" fill="#c0c0c0"/>
<rect x="1261" y="652" width="1" height="59" fill="#c0c0c0"/>
<rect x="1269" y="652" width="1" height="73" fill="#c0c0c0"/>
<rect x="1277" y="652" width="1" height="83" fill="#c0c0c0"/>
<rect x="1285" y="652" width="1" height="90" fill="#c0c0c0"/>
<rect x="1293" y="652" width="1" height="91" fill="#c0c0c0"/>
<rect x="1301" y="652" width="1" height="88" fill="#c0c0c0"/>
<rect x="1309" y="652" width="1" height="85" fill="#c0c0c0"/>
<rect x="1317" y="652" width="1" height="79" fill="#c0c0c0"/>
<rect x="1325" y="652" width="1" height="76" fill="#c0c0c0"/>
<rect x="1333" y="652" width="1" height="70" fill="#c0c0c0"/>
<rect x="1341" y="652" width="1" height="67" fill="#c0c0c0"/>
<rect x="1349" y="652" width="1" height="62" fill="#c0c0c0"/>
<rect x="1357" y="652" width="1" height="56" fill="#c0c0c0"/>
<rect x="1365" y="652" width="1" height="55" fill="#c0c0c0"/>
<rect x="1373" y="652" width="1" height="50" fill="#c0c0c0"/>
<rect x="1381" y="652" width="1" height="47" fill="#c0c0c0"/>
</g>
<path d="M1.4 652.3 L8.5 655.4 L14.2 658.7 L21.2 661.5 L26.2 663.6 L32.6 666.5 L39.6 667.6 L45.3 669.3 L51.0 670.4 L56.6 671.4 L63.7 672.1 L69.5 672.7 L77.5 672.5 L85.5 671.3 L93.5 670.1 L101.5 668.9 L109.5 668.7 L117.5 669.2 L125.5 669.8 L133.5 670.4 L141.5 671.1 L149.5 671.9 L157.5 673.3 L165.5 674.7 L173.5 676.3 L181.5 677.2 L189.5 677.3 L197.5 676.8 L205.5 675.6 L213.5 673.5 L221.5 670.5 L229.5 666.8 L237.5 662.7 L245.5 658.1 L253.5 652.6 L261.5 647.1 L269.5 640.8 L277.5 634.4 L285.5 627.8 L293.5 621.5 L301.5 615.4 L309.5 609.4 L317.5 604.2 L325.5 600.2 L333.5 597.1 L341.5 595.3 L349.5 594.7 L357.5 595.1 L365.5 596.4 L373.5 598.5 L381.5 601.4 L389.5 605.1 L397.5 608.9 L405.5 612.9 L413.5 617.3 L421.5 621.8 L429.5 627.1 L437.5 632.1 L445.5 636.7 L453.5 640.9 L461.5 644.2 L469.5 647.1 L477.5 649.4 L485.5 651.4 L493.5 653.2 L501.5 654.5 L509.5 655.6 L517.5 656.1 L525.5 656.6 L533.5 657.2 L541.5 657.7 L549.5 658.7 L557.5 659.7 L565.5 660.6 L573.5 660.8 L581.5 660.7 L589.5 660.5 L597.5 659.5 L605.5 658.2 L613.5 656.6 L621.5 654.5 L629.5 651.7 L637.5 648.6 L645.5 645.9 L653.5 643.7 L661.5 642.2 L669.5 642.1 L677.5 643.2 L685.5 645.1 L693.5 647.5 L701.5 651.9 L709.5 657.7 L717.5 664.1 L725.5 670.8 L733.5 676.7 L741.5 681.1 L749.5 684.1 L757.5 686.1 L765.5 687.7 L773.5 687.6 L781.5 686.2 L789.5 684.1 L797.5 681.2 L805.5 678.9 L813.5 677.1 L821.5 675.3 L829.5 673.8 L837.5 671.6 L845.5 668.8 L853.5 666.1 L861.5 663.3 L869.5 660.6 L877.5 658.1 L885.5 655.9 L893.5 654.2 L901.5 652.4 L909.5 651.6 L917.5 651.9 L925.5 652.5 L933.5 652.9 L941.5 653.6 L949.5 654.3 L957.5 655.2 L965.5 656.4 L973.5 658.2 L981.5 659.6 L989.5 660.2 L997.5 660.4 L1005.5 660.3 L1013.5 659.7 L1021.5 658.7 L1029.5 657.4 L1037.5 655.7 L1045.5 653.4 L1053.5 651.4 L1061.5 650.3 L1069.5 649.8 L1077.5 650.2 L1085.5 651.7 L1093.5 654.6 L1101.5 658.1 L1109.5 661.4 L1117.5 664.9 L1125.5 668.6 L1133.5 672.1 L1141.5 675.2 L1149.5 677.8 L1157.5 679.4 L1165.5 680.3 L1173.5 680.5 L1181.5 680.5 L1189.5 680.2 L1197.5 679.4 L1205.5 678.6 L1213.5 677.9 L1221.5 677.6 L1229.5 677.4 L1237.5 676.8 L1245.5 677.3 L1253.5 679.2 L1261.5 682.9 L1269.5 688.6 L1277.5 695.4 L1285.5 702.9 L1293.5 710.4 L1301.5 717.5 L1309.5 724.3 L1317.5 729.4 L1325.5 732.9 L1333.5 734.2 L1341.5 733.5 L1349.5 731.2 L1357.5 727.4 L1365.5 723.4 L1373.5 719.2 L1381.5 714.9" fill="none" stroke="#ff0000" stroke-width="1" stroke-dasharray="3,3" clip-path="url(#cmacd)" shape-rendering="crispEdges"/>
<g shape-rendering="crispEdges">
<rect x="1649" y="652" width="3" height="1" fill="#000"/>
</g>
<text x="1652" y="592" font-size="10.3" fill="#000" text-anchor="start" font-family="'Liberation Sans', Arial, sans-serif" font-weight="normal" textLength="37" lengthAdjust="spacingAndGlyphs" stroke="#000" stroke-width="0.25">0.012547</text>
<text x="1652" y="656" font-size="10.3" fill="#000" text-anchor="start" font-family="'Liberation Sans', Arial, sans-serif" font-weight="normal" textLength="18" lengthAdjust="spacingAndGlyphs" stroke="#000" stroke-width="0.25">0.00</text>
<text x="1652" y="748" font-size="10.3" fill="#000" text-anchor="start" font-family="'Liberation Sans', Arial, sans-serif" font-weight="normal" textLength="41" lengthAdjust="spacingAndGlyphs" stroke="#000" stroke-width="0.25">-0.017634</text>
<path d="M1298.1 736.7 L1394 706.6" stroke="#ff0000" stroke-width="3.2" fill="none"/>
<path d="M1403.2 703.5 L1390.3 702.3 L1393.8 711 Z" fill="#ff0000"/>
<text x="-7.5" y="766" font-size="10.3" fill="#000" text-anchor="start" font-family="'Liberation Sans', Arial, sans-serif" font-weight="normal" textLength="68" lengthAdjust="spacingAndGlyphs" stroke="#000" stroke-width="0.25">RSI(14) 41.9065</text>
<path d="M0 789.5 H1647" stroke="#c0c0c0" stroke-dasharray="3,3" shape-rendering="crispEdges"/>
<path d="M0 840.5 H1647" stroke="#c0c0c0" stroke-dasharray="3,3" shape-rendering="crispEdges"/>
<path d="M0 901.5 H1647" stroke="#c0c0c0" stroke-dasharray="3,3" shape-rendering="crispEdges"/>
<path d="M0 872 L5.5 880.8 L13.5 885.1 L21.5 857.2 L29.5 852.5 L37.5 841.6 L45.5 839.8 L53.5 836.2 L61.5 851.5 L69.5 850.4 L77.5 850.4 L85.5 847.3 L93.5 855.3 L101.5 849.4 L109.5 862.5 L117.5 854.8 L125.5 853.3 L133.5 850.1 L141.5 858.6 L149.5 863.5 L157.5 866.4 L165.5 867.5 L173.5 862.8 L181.5 852.9 L189.5 836.4 L197.5 835.2 L205.5 821.5 L213.5 821.5 L221.5 820.4 L229.5 826.0 L237.5 830.3 L245.5 819.6 L253.5 805.5 L261.5 804.1 L269.5 795.3 L277.5 793.5 L285.5 791.3 L293.5 801.2 L301.5 803.1 L309.5 804.4 L317.5 816.5 L325.5 814.3 L333.5 816.5 L341.5 809.3 L349.5 809.3 L357.5 807.2 L365.5 829.6 L373.5 834.5 L381.5 839.5 L389.5 856.5 L397.5 839.5 L405.5 836.4 L413.5 842.3 L421.5 842.3 L429.5 854.3 L437.5 846.3 L445.5 850.1 L453.5 845.4 L461.5 846.3 L469.5 843.5 L477.5 832.6 L485.5 846.4 L493.5 843.2 L501.5 851.3 L509.5 845.6 L517.5 837.5 L525.5 849.3 L533.5 849.3 L541.5 847.4 L549.5 849.3 L557.5 849.3 L565.5 846.4 L573.5 838.9 L581.5 834.7 L589.5 827.3 L597.5 828.3 L605.5 828.3 L613.5 831.4 L621.5 821.5 L629.5 815.3 L637.5 818.4 L645.5 832.3 L653.5 839.4 L661.5 838.5 L669.5 863.7 L677.5 868.4 L685.5 866.3 L693.5 850.3 L701.5 874.3 L709.5 873.3 L717.5 873.3 L725.5 873.3 L733.5 845.6 L741.5 842.5 L749.5 848.4 L757.5 845.3 L765.5 847.4 L773.5 846.4 L781.5 843.2 L789.5 850.3 L797.5 848.4 L805.5 851.7 L813.5 845.3 L821.5 846.0 L829.5 848.4 L837.5 825.2 L845.5 820.5 L853.5 832.3 L861.5 840.4 L869.5 839.4 L877.5 843.2 L885.5 847.4 L893.5 846.0 L901.5 844.2 L909.5 839.6 L917.5 845.6 L925.5 840.4 L933.5 840.4 L941.5 843.6 L949.5 851.7 L957.5 856.6 L965.5 861.6 L973.5 865.8 L981.5 838.9 L989.5 833.3 L997.5 828.3 L1005.5 828.3 L1013.5 835.4 L1021.5 828.3 L1029.5 842.2 L1037.5 842.2 L1045.5 836.5 L1053.5 836.5 L1061.5 848.4 L1069.5 846.4 L1077.5 851.0 L1085.5 870.1 L1093.5 872.2 L1101.5 871.1 L1109.5 853.5 L1117.5 858.3 L1125.5 857.3 L1133.5 856.4 L1141.5 855.5 L1149.5 854.5 L1157.5 857.7 L1165.5 868.3 L1173.5 854.5 L1181.5 847.6 L1189.5 850.4 L1197.5 844.5 L1205.5 852.2 L1213.5 855.6 L1221.5 861.1 L1229.5 854.5 L1237.5 855.6 L1245.5 878.3 L1253.5 884.4 L1261.5 892.1 L1269.5 895.2 L1277.5 893.3 L1285.5 894.4 L1293.5 878.3 L1301.5 870.6 L1309.5 869.1 L1317.5 864.8 L1325.5 861.4 L1333.5 863.0 L1341.5 868.3 L1349.5 853.4 L1357.5 853.4 L1365.5 862.6 L1373.5 851.4 L1381.5 853.9" fill="none" stroke="#1e90ff" stroke-width="1" clip-path="url(#crsi)" shape-rendering="crispEdges"/>
<g shape-rendering="crispEdges">
<rect x="1649" y="789" width="3" height="1" fill="#000"/>
<rect x="1649" y="840" width="3" height="1" fill="#000"/>
<rect x="1649" y="901" width="3" height="1" fill="#000"/>
</g>
<text x="1652" y="764" font-size="10.3" fill="#000" text-anchor="start" font-family="'Liberation Sans', Arial, sans-serif" font-weight="normal" textLength="14" lengthAdjust="spacingAndGlyphs" stroke="#000" stroke-width="0.25">100</text>
<text x="1652" y="792.5" font-size="10.3" fill="#000" text-anchor="start" font-family="'Liberation Sans', Arial, sans-serif" font-weight="normal" textLength="10" lengthAdjust="spacingAndGlyphs" stroke="#000" stroke-width="0.25">80</text>
<text x="1652" y="843.5" font-size="10.3" fill="#000" text-anchor="start" font-family="'Liberation Sans', Arial, sans-serif" font-weight="normal" textLength="10" lengthAdjust="spacingAndGlyphs" stroke="#000" stroke-width="0.25">50</text>
<text x="1652" y="904.5" font-size="10.3" fill="#000" text-anchor="start" font-family="'Liberation Sans', Arial, sans-serif" font-weight="normal" textLength="10" lengthAdjust="spacingAndGlyphs" stroke="#000" stroke-width="0.25">15</text>
<text x="1652" y="924" font-size="10.3" fill="#000" text-anchor="start" font-family="'Liberation Sans', Arial, sans-serif" font-weight="normal" textLength="5" lengthAdjust="spacingAndGlyphs" stroke="#000" stroke-width="0.25">0</text>
<path d="M1282 882.5 L1383 855" stroke="#ff0000" stroke-width="3.2" fill="none"/>
<path d="M1390 853 L1377 850 L1380.5 860 Z" fill="#ff0000"/>
<g shape-rendering="crispEdges">
<rect x="53" y="928" width="1" height="3" fill="#000"/>
<rect x="117" y="928" width="1" height="3" fill="#000"/>
<rect x="181" y="928" width="1" height="3" fill="#000"/>
<rect x="245" y="928" width="1" height="3" fill="#000"/>
<rect x="309" y="928" width="1" height="3" fill="#000"/>
<rect x="373" y="928" width="1" height="3" fill="#000"/>
<rect x="437" y="928" width="1" height="3" fill="#000"/>
<rect x="501" y="928" width="1" height="3" fill="#000"/>
<rect x="565" y="928" width="1" height="3" fill="#000"/>
<rect x="629" y="928" width="1" height="3" fill="#000"/>
<rect x="693" y="928" width="1" height="3" fill="#000"/>
<rect x="757" y="928" width="1" height="3" fill="#000"/>
<rect x="821" y="928" width="1" height="3" fill="#000"/>
<rect x="885" y="928" width="1" height="3" fill="#000"/>
<rect x="949" y="928" width="1" height="3" fill="#000"/>
<rect x="1013" y="928" width="1" height="3" fill="#000"/>
<rect x="1077" y="928" width="1" height="3" fill="#000"/>
<rect x="1141" y="928" width="1" height="3" fill="#000"/>
<rect x="1205" y="928" width="1" height="3" fill="#000"/>
<rect x="1269" y="928" width="1" height="3" fill="#000"/>
<rect x="1333" y="928" width="1" height="3" fill="#000"/>
</g>
<text x="-17.6" y="940" font-size="10.3" fill="#000" text-anchor="start" font-family="'Liberation Sans', Arial, sans-serif" font-weight="normal" textLength="52.1" lengthAdjust="spacingAndGlyphs" stroke="#000" stroke-width="0.25">10 Sep 2021</text>
<text x="51.8" y="940" font-size="10.3" fill="#000" text-anchor="start" font-family="'Liberation Sans', Arial, sans-serif" font-weight="normal" textLength="54.6" lengthAdjust="spacingAndGlyphs" stroke="#000" stroke-width="0.25">13 Sep 08:00</text>
<text x="115.8" y="940" font-size="10.3" fill="#000" text-anchor="start" font-family="'Liberation Sans', Arial, sans-serif" font-weight="normal" textLength="54.6" lengthAdjust="spacingAndGlyphs" stroke="#000" stroke-width="0.25">14 Sep 16:00</text>
<text x="179.8" y="940" font-size="10.3" fill="#000" text-anchor="start" font-family="'Liberation Sans', Arial, sans-serif" font-weight="normal" textLength="54.6" lengthAdjust="spacingAndGlyphs" stroke="#000" stroke-width="0.25">16 Sep 00:00</text>
<text x="243.8" y="940" font-size="10.3" fill="#000" text-anchor="start" font-family="'Liberation Sans', Arial, sans-serif" font-weight="normal" textLength="54.6" lengthAdjust="spacingAndGlyphs" stroke="#000" stroke-width="0.25">17 Sep 08:00</text>
<text x="307.8" y="940" font-size="10.3" fill="#000" text-anchor="start" font-family="'Liberation Sans', Arial, sans-serif" font-weight="normal" textLength="54.6" lengthAdjust="spacingAndGlyphs" stroke="#000" stroke-width="0.25">20 Sep 20:00</text>
<text x="371.8" y="940" font-size="10.3" fill="#000" text-anchor="start" font-family="'Liberation Sans', Arial, sans-serif" font-weight="normal" textLength="54.6" lengthAdjust="spacingAndGlyphs" stroke="#000" stroke-width="0.25">22 Sep 04:00</text>
<text x="435.8" y="940" font-size="10.3" fill="#000" text-anchor="start" font-family="'Liberation Sans', Arial, sans-serif" font-weight="normal" textLength="54.6" lengthAdjust="spacingAndGlyphs" stroke="#000" stroke-width="0.25">23 Sep 12:00</text>
<text x="499.8" y="940" font-size="10.3" fill="#000" text-anchor="start" font-family="'Liberation Sans', Arial, sans-serif" font-weight="normal" textLength="54.6" lengthAdjust="spacingAndGlyphs" stroke="#000" stroke-width="0.25">27 Sep 00:00</text>
<text x="563.8" y="940" font-size="10.3" fill="#000" text-anchor="start" font-family="'Liberation Sans', Arial, sans-serif" font-weight="normal" textLength="54.6" lengthAdjust="spacingAndGlyphs" stroke="#000" stroke-width="0.25">28 Sep 08:00</text>
<text x="627.8" y="940" font-size="10.3" fill="#000" text-anchor="start" font-family="'Liberation Sans', Arial, sans-serif" font-weight="normal" textLength="54.6" lengthAdjust="spacingAndGlyphs" stroke="#000" stroke-width="0.25">29 Sep 16:00</text>
<text x="691.8" y="940" font-size="10.3" fill="#000" text-anchor="start" font-family="'Liberation Sans', Arial, sans-serif" font-weight="normal" textLength="47.4" lengthAdjust="spacingAndGlyphs" stroke="#000" stroke-width="0.25">1 Oct 00:00</text>
<text x="755.8" y="940" font-size="10.3" fill="#000" text-anchor="start" font-family="'Liberation Sans', Arial, sans-serif" font-weight="normal" textLength="47.4" lengthAdjust="spacingAndGlyphs" stroke="#000" stroke-width="0.25">4 Oct 12:00</text>
<text x="819.8" y="940" font-size="10.3" fill="#000" text-anchor="start" font-family="'Liberation Sans', Arial, sans-serif" font-weight="normal" textLength="47.4" lengthAdjust="spacingAndGlyphs" stroke="#000" stroke-width="0.25">5 Oct 20:00</text>
<text x="883.8" y="940" font-size="10.3" fill="#000" text-anchor="start" font-family="'Liberation Sans', Arial, sans-serif" font-weight="normal" textLength="47.4" lengthAdjust="spacingAndGlyphs" stroke="#000" stroke-width="0.25">7 Oct 04:00</text>
<text x="947.8" y="940" font-size="10.3" fill="#000" text-anchor="start" font-family="'Liberation Sans', Arial, sans-serif" font-weight="normal" textLength="47.4" lengthAdjust="spacingAndGlyphs" stroke="#000" stroke-width="0.25">8 Oct 12:00</text>
<text x="1011.8" y="940" font-size="10.3" fill="#000" text-anchor="start" font-family="'Liberation Sans', Arial, sans-serif" font-weight="normal" textLength="52.6" lengthAdjust="spacingAndGlyphs" stroke="#000" stroke-width="0.25">12 Oct 00:00</text>
<text x="1075.8" y="940" font-size="10.3" fill="#000" text-anchor="start" font-family="'Liberation Sans', Arial, sans-serif" font-weight="normal" textLength="52.6" lengthAdjust="spacingAndGlyphs" stroke="#000" stroke-width="0.25">13 Oct 08:00</text>
<text x="1139.8" y="940" font-size="10.3" fill="#000" text-anchor="start" font-family="'Liberation Sans', Arial, sans-serif" font-weight="normal" textLength="52.6" lengthAdjust="spacingAndGlyphs" stroke="#000" stroke-width="0.25">14 Oct 16:00</text>
<text x="1203.8" y="940" font-size="10.3" fill="#000" text-anchor="start" font-family="'Liberation Sans', Arial, sans-serif" font-weight="normal" textLength="52.6" lengthAdjust="spacingAndGlyphs" stroke="#000" stroke-width="0.25">18 Oct 04:00</text>
<text x="1267.8" y="940" font-size="10.3" fill="#000" text-anchor="start" font-family="'Liberation Sans', Arial, sans-serif" font-weight="normal" textLength="52.6" lengthAdjust="spacingAndGlyphs" stroke="#000" stroke-width="0.25">19 Oct 12:00</text>
<text x="1331.8" y="940" font-size="10.3" fill="#000" text-anchor="start" font-family="'Liberation Sans', Arial, sans-serif" font-weight="normal" textLength="52.6" lengthAdjust="spacingAndGlyphs" stroke="#000" stroke-width="0.25">20 Oct 20:00</text>
</svg></body></html>
